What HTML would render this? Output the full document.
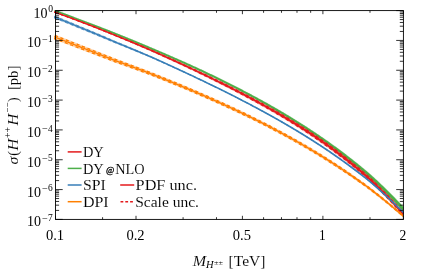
<!DOCTYPE html>
<html><head><meta charset="utf-8"><title>plot</title>
<style>html,body{margin:0;padding:0;background:#fff;}svg{display:block;will-change:transform;}text{font-family:"Liberation Serif",serif;fill:#000;stroke:#fff;stroke-width:0.08px;}text.b{stroke:#000;stroke-width:0.3px;}text.s{stroke:none;}</style></head><body>
<svg width="432" height="270" viewBox="0 0 432 270">
<rect width="432" height="270" fill="#fff"/>
<defs><clipPath id="c"><rect x="54.0" y="10.6" width="349.4" height="208.8"/></clipPath></defs>
<g clip-path="url(#c)" stroke="none">
<path d="M53.20,11.10 L54.20,11.44 L55.18,11.78 L56.18,12.14 L57.18,12.50 L58.17,12.87 L59.17,13.23 L60.17,13.60 L61.17,13.97 L62.17,14.33 L63.17,14.70 L64.17,15.07 L65.16,15.45 L66.16,15.82 L67.16,16.20 L68.16,16.57 L69.16,16.95 L70.16,17.33 L71.16,17.71 L72.16,18.09 L73.15,18.47 L74.15,18.85 L75.15,19.24 L76.15,19.62 L77.15,20.01 L78.15,20.39 L79.15,20.78 L80.16,21.17 L81.16,21.54 L82.16,21.91 L83.16,22.28 L84.16,22.66 L85.15,23.03 L86.15,23.41 L87.15,23.78 L88.15,24.16 L89.15,24.54 L90.15,24.92 L91.15,25.30 L92.15,25.68 L93.15,26.06 L94.14,26.45 L95.14,26.83 L96.14,27.22 L97.14,27.60 L98.14,27.99 L99.14,28.38 L100.14,28.77 L101.14,29.16 L102.13,29.55 L103.13,29.95 L104.13,30.34 L105.13,30.74 L106.13,31.13 L107.12,31.53 L108.12,31.93 L109.12,32.33 L110.12,32.73 L111.12,33.13 L112.12,33.53 L113.11,33.93 L114.11,34.33 L115.11,34.74 L116.11,35.14 L117.11,35.54 L118.11,35.95 L119.10,36.35 L120.10,36.76 L121.10,37.16 L122.10,37.57 L123.10,37.98 L124.10,38.39 L125.09,38.79 L126.09,39.20 L127.09,39.62 L128.09,40.03 L129.09,40.44 L130.08,40.85 L131.08,41.27 L132.08,41.68 L133.08,42.10 L134.08,42.51 L135.08,42.93 L136.07,43.35 L137.07,43.77 L138.07,44.19 L139.07,44.61 L140.07,45.03 L141.06,45.45 L142.06,45.87 L143.06,46.30 L144.06,46.72 L145.06,47.14 L146.06,47.57 L147.05,48.00 L148.05,48.42 L149.05,48.85 L150.05,49.28 L151.05,49.71 L152.05,50.13 L153.04,50.56 L154.05,50.99 L155.05,51.42 L156.05,51.84 L157.05,52.27 L158.04,52.70 L159.04,53.13 L160.04,53.55 L161.04,53.98 L162.04,54.41 L163.04,54.85 L164.04,55.28 L165.03,55.71 L166.03,56.14 L167.03,56.58 L168.03,57.01 L169.03,57.45 L170.03,57.89 L171.03,58.32 L172.03,58.76 L173.02,59.20 L174.02,59.64 L175.02,60.08 L176.02,60.52 L177.02,60.96 L178.02,61.41 L179.02,61.85 L180.01,62.30 L181.01,62.74 L182.01,63.19 L183.01,63.64 L184.01,64.09 L185.01,64.53 L186.01,64.98 L187.00,65.44 L188.00,65.89 L189.00,66.34 L190.00,66.79 L191.00,67.25 L192.00,67.70 L193.00,68.16 L193.99,68.62 L194.99,69.08 L195.99,69.54 L196.99,70.00 L197.99,70.46 L198.99,70.92 L199.98,71.38 L200.98,71.86 L201.97,72.33 L202.97,72.80 L203.97,73.28 L204.97,73.76 L205.97,74.23 L206.97,74.71 L207.96,75.19 L208.96,75.67 L209.96,76.16 L210.96,76.64 L211.96,77.12 L212.96,77.61 L213.95,78.10 L214.95,78.58 L215.95,79.07 L216.95,79.56 L217.95,80.05 L218.95,80.54 L219.94,81.04 L220.94,81.53 L221.94,82.03 L222.94,82.52 L223.94,83.02 L224.94,83.52 L225.93,84.02 L226.93,84.52 L227.93,85.03 L228.93,85.53 L229.93,86.03 L230.93,86.54 L231.92,87.05 L232.92,87.56 L233.92,88.07 L234.92,88.58 L235.92,89.09 L236.91,89.61 L237.91,90.13 L238.91,90.64 L239.91,91.16 L240.91,91.68 L241.90,92.20 L242.90,92.73 L243.90,93.25 L244.90,93.78 L245.90,94.31 L246.89,94.83 L247.89,95.36 L248.89,95.90 L249.89,96.43 L250.89,96.96 L251.88,97.50 L252.88,98.04 L253.88,98.58 L254.88,99.12 L255.88,99.66 L256.87,100.21 L257.87,100.75 L258.87,101.30 L259.87,101.85 L260.87,102.40 L261.86,102.96 L262.86,103.51 L263.86,104.07 L264.86,104.62 L265.86,105.19 L266.85,105.75 L267.85,106.31 L268.85,106.88 L269.85,107.44 L270.85,108.01 L271.84,108.58 L272.84,109.16 L273.84,109.73 L274.84,110.31 L275.83,110.89 L276.83,111.47 L277.83,112.05 L278.83,112.64 L279.83,113.23 L280.82,113.82 L281.82,114.41 L282.82,115.00 L283.82,115.60 L284.81,116.20 L285.81,116.80 L286.81,117.40 L287.81,118.00 L288.80,118.61 L289.80,119.22 L290.80,119.83 L291.80,120.44 L292.79,121.06 L293.79,121.68 L294.79,122.30 L295.79,122.92 L296.78,123.55 L297.78,124.17 L298.78,124.81 L299.78,125.44 L300.77,126.08 L301.77,126.72 L302.76,127.36 L303.76,128.01 L304.76,128.65 L305.75,129.30 L306.75,129.96 L307.74,130.61 L308.74,131.27 L309.73,131.93 L310.73,132.60 L311.73,133.26 L312.72,133.93 L313.72,134.60 L314.71,135.28 L315.71,135.96 L316.70,136.64 L317.70,137.32 L318.69,138.01 L319.69,138.70 L320.69,139.39 L321.68,140.09 L322.68,140.79 L323.67,141.49 L324.67,142.19 L325.66,142.90 L326.66,143.61 L327.65,144.32 L328.65,145.04 L329.64,145.76 L330.64,146.49 L331.63,147.21 L332.63,147.94 L333.62,148.68 L334.62,149.41 L335.61,150.15 L336.61,150.90 L337.61,151.65 L338.60,152.40 L339.59,153.15 L340.59,153.91 L341.58,154.68 L342.57,155.44 L343.56,156.22 L344.56,156.99 L345.55,157.77 L346.54,158.55 L347.54,159.34 L348.53,160.13 L349.52,160.92 L350.51,161.72 L351.50,162.52 L352.50,163.32 L353.49,164.13 L354.48,164.94 L355.47,165.76 L356.47,166.58 L357.46,167.40 L358.45,168.23 L359.44,169.07 L360.43,169.90 L361.43,170.74 L362.42,171.59 L363.41,172.44 L364.40,173.29 L365.39,174.15 L366.39,175.01 L367.38,175.88 L368.37,176.75 L369.33,177.61 L370.32,178.54 L371.31,179.47 L372.31,180.40 L373.30,181.34 L374.29,182.28 L375.28,183.22 L376.27,184.17 L377.26,185.13 L378.26,186.09 L379.25,187.05 L380.24,188.02 L381.24,188.99 L382.23,189.97 L383.22,190.95 L384.22,191.94 L385.21,192.93 L386.21,193.92 L387.20,194.93 L388.19,195.93 L389.19,196.94 L390.18,197.96 L391.17,198.98 L392.17,200.01 L393.16,201.04 L394.16,202.07 L395.15,203.11 L396.14,204.16 L397.14,205.21 L398.13,206.27 L399.12,207.34 L400.12,208.40 L401.11,209.48 L402.11,210.56 L405.30,208.42 L404.29,207.33 L403.28,206.26 L402.28,205.18 L401.27,204.12 L400.27,203.06 L399.26,202.00 L398.25,200.95 L397.25,199.90 L396.24,198.86 L395.23,197.83 L394.23,196.80 L393.22,195.78 L392.22,194.76 L391.21,193.75 L390.20,192.74 L389.20,191.73 L388.19,190.73 L387.18,189.74 L386.18,188.75 L385.17,187.77 L384.17,186.79 L383.16,185.81 L382.15,184.85 L381.15,183.88 L380.14,182.92 L379.13,181.97 L378.12,181.02 L377.11,180.08 L376.11,179.14 L375.10,178.21 L374.09,177.28 L373.08,176.36 L372.07,175.44 L371.03,174.50 L370.02,173.63 L369.02,172.77 L368.01,171.91 L367.00,171.06 L365.99,170.21 L364.98,169.36 L363.98,168.52 L362.97,167.69 L361.96,166.85 L360.95,166.03 L359.94,165.20 L358.94,164.38 L357.93,163.57 L356.92,162.76 L355.91,161.95 L354.91,161.15 L353.90,160.35 L352.89,159.55 L351.88,158.76 L350.88,157.97 L349.87,157.19 L348.86,156.41 L347.85,155.63 L346.85,154.86 L345.84,154.09 L344.83,153.33 L343.82,152.56 L342.82,151.81 L341.81,151.05 L340.80,150.30 L339.80,149.55 L338.79,148.80 L337.79,148.06 L336.78,147.32 L335.78,146.59 L334.77,145.85 L333.77,145.12 L332.76,144.40 L331.76,143.68 L330.75,142.96 L329.75,142.24 L328.74,141.53 L327.74,140.82 L326.73,140.11 L325.73,139.41 L324.73,138.71 L323.72,138.01 L322.72,137.32 L321.71,136.63 L320.71,135.94 L319.70,135.25 L318.70,134.57 L317.69,133.89 L316.69,133.22 L315.69,132.54 L314.68,131.87 L313.68,131.20 L312.67,130.54 L311.67,129.88 L310.66,129.22 L309.66,128.56 L308.66,127.91 L307.65,127.26 L306.65,126.61 L305.64,125.97 L304.64,125.32 L303.63,124.68 L302.63,124.04 L301.63,123.41 L300.62,122.78 L299.62,122.14 L298.62,121.51 L297.61,120.89 L296.61,120.26 L295.61,119.64 L294.61,119.02 L293.60,118.40 L292.60,117.79 L291.60,117.17 L290.60,116.56 L289.59,115.96 L288.59,115.35 L287.59,114.75 L286.59,114.14 L285.59,113.54 L284.58,112.95 L283.58,112.35 L282.58,111.76 L281.58,111.17 L280.57,110.58 L279.57,109.99 L278.57,109.41 L277.57,108.83 L276.56,108.25 L275.56,107.67 L274.56,107.09 L273.56,106.52 L272.56,105.95 L271.55,105.38 L270.55,104.81 L269.55,104.24 L268.55,103.68 L267.55,103.11 L266.54,102.55 L265.54,101.99 L264.54,101.44 L263.54,100.88 L262.53,100.33 L261.53,99.78 L260.53,99.22 L259.53,98.68 L258.53,98.13 L257.52,97.58 L256.52,97.04 L255.52,96.50 L254.52,95.96 L253.52,95.42 L252.52,94.88 L251.51,94.35 L250.51,93.82 L249.51,93.28 L248.51,92.75 L247.51,92.23 L246.50,91.70 L245.50,91.17 L244.50,90.65 L243.50,90.13 L242.49,89.61 L241.49,89.09 L240.49,88.57 L239.49,88.05 L238.49,87.54 L237.49,87.02 L236.48,86.51 L235.48,86.00 L234.48,85.49 L233.48,84.98 L232.48,84.47 L231.47,83.97 L230.47,83.46 L229.47,82.96 L228.47,82.46 L227.47,81.96 L226.46,81.46 L225.46,80.96 L224.46,80.46 L223.46,79.97 L222.46,79.47 L221.46,78.98 L220.45,78.49 L219.45,78.00 L218.45,77.51 L217.45,77.02 L216.45,76.53 L215.45,76.05 L214.44,75.56 L213.44,75.08 L212.44,74.59 L211.44,74.11 L210.44,73.63 L209.44,73.15 L208.43,72.67 L207.43,72.20 L206.43,71.72 L205.43,71.24 L204.43,70.77 L203.43,70.30 L202.42,69.82 L201.42,69.35 L200.41,68.88 L199.41,68.42 L198.41,67.96 L197.41,67.50 L196.41,67.04 L195.41,66.59 L194.40,66.13 L193.40,65.68 L192.40,65.22 L191.40,64.77 L190.40,64.32 L189.40,63.87 L188.40,63.42 L187.39,62.97 L186.39,62.52 L185.39,62.07 L184.39,61.62 L183.39,61.18 L182.39,60.73 L181.39,60.29 L180.38,59.85 L179.38,59.40 L178.38,58.96 L177.38,58.52 L176.38,58.08 L175.38,57.64 L174.38,57.20 L173.38,56.77 L172.37,56.33 L171.37,55.89 L170.37,55.46 L169.37,55.03 L168.37,54.59 L167.37,54.16 L166.37,53.73 L165.36,53.30 L164.36,52.87 L163.36,52.44 L162.36,52.01 L161.36,51.58 L160.36,51.16 L159.36,50.73 L158.36,50.30 L157.35,49.88 L156.35,49.46 L155.35,49.03 L154.36,48.61 L153.35,48.18 L152.35,47.76 L151.35,47.33 L150.35,46.91 L149.35,46.48 L148.35,46.06 L147.35,45.64 L146.34,45.22 L145.34,44.80 L144.34,44.38 L143.34,43.96 L142.34,43.54 L141.33,43.13 L140.33,42.71 L139.33,42.29 L138.33,41.88 L137.33,41.46 L136.32,41.05 L135.32,40.64 L134.32,40.23 L133.32,39.82 L132.32,39.41 L131.32,39.00 L130.31,38.59 L129.31,38.18 L128.31,37.77 L127.31,37.37 L126.31,36.96 L125.30,36.56 L124.30,36.15 L123.30,35.75 L122.30,35.35 L121.30,34.95 L120.30,34.55 L119.29,34.15 L118.29,33.75 L117.29,33.35 L116.29,32.95 L115.29,32.56 L114.29,32.16 L113.29,31.76 L112.28,31.36 L111.28,30.97 L110.28,30.57 L109.28,30.18 L108.28,29.79 L107.27,29.39 L106.27,29.00 L105.27,28.61 L104.27,28.22 L103.27,27.83 L102.27,27.44 L101.26,27.06 L100.26,26.67 L99.26,26.28 L98.26,25.90 L97.26,25.51 L96.26,25.13 L95.26,24.74 L94.25,24.36 L93.25,23.98 L92.25,23.60 L91.25,23.22 L90.25,22.84 L89.25,22.46 L88.25,22.09 L87.25,21.71 L86.25,21.34 L85.24,20.96 L84.24,20.59 L83.24,20.22 L82.24,19.85 L81.24,19.48 L80.25,19.12 L79.25,18.73 L78.25,18.34 L77.25,17.96 L76.25,17.57 L75.25,17.19 L74.25,16.81 L73.25,16.43 L72.24,16.05 L71.24,15.67 L70.24,15.29 L69.24,14.91 L68.24,14.54 L67.24,14.17 L66.24,13.79 L65.23,13.42 L64.23,13.05 L63.23,12.68 L62.23,12.31 L61.23,11.95 L60.23,11.58 L59.23,11.22 L58.22,10.86 L57.22,10.50 L56.22,10.14 L55.20,9.77 L54.20,9.43Z" fill="#4daf4a" fill-opacity="0.33"/>
<path d="M53.26,10.91 L54.26,11.25 L55.25,11.59 L56.24,11.95 L57.24,12.32 L58.24,12.68 L59.24,13.04 L60.24,13.41 L61.24,13.78 L62.24,14.15 L63.24,14.52 L64.24,14.89 L65.23,15.26 L66.23,15.63 L67.23,16.01 L68.23,16.38 L69.23,16.76 L70.23,17.14 L71.23,17.52 L72.23,17.90 L73.23,18.28 L74.22,18.66 L75.22,19.05 L76.22,19.43 L77.22,19.82 L78.22,20.21 L79.22,20.60 L80.23,20.98 L81.23,21.35 L82.23,21.72 L83.23,22.10 L84.23,22.47 L85.23,22.84 L86.22,23.22 L87.22,23.60 L88.22,23.97 L89.22,24.35 L90.22,24.73 L91.22,25.11 L92.22,25.49 L93.22,25.88 L94.22,26.26 L95.21,26.65 L96.21,27.03 L97.21,27.42 L98.21,27.80 L99.21,28.19 L100.21,28.58 L101.21,28.97 L102.21,29.37 L103.21,29.76 L104.20,30.15 L105.20,30.55 L106.20,30.94 L107.20,31.34 L108.20,31.73 L109.20,32.13 L110.20,32.53 L111.20,32.93 L112.19,33.33 L113.19,33.73 L114.19,34.13 L115.19,34.54 L116.19,34.94 L117.19,35.34 L118.19,35.74 L119.19,36.15 L120.19,36.55 L121.18,36.96 L122.18,37.36 L123.18,37.77 L124.18,38.18 L125.18,38.59 L126.18,38.99 L127.18,39.40 L128.18,39.82 L129.17,40.23 L130.17,40.64 L131.17,41.05 L132.17,41.47 L133.17,41.88 L134.17,42.30 L135.17,42.71 L136.16,43.13 L137.16,43.55 L138.16,43.97 L139.16,44.39 L140.16,44.81 L141.16,45.23 L142.16,45.65 L143.16,46.07 L144.15,46.49 L145.15,46.92 L146.15,47.34 L147.15,47.77 L148.15,48.19 L149.15,48.62 L150.15,49.05 L151.15,49.48 L152.14,49.90 L153.14,50.33 L154.15,50.76 L155.15,51.19 L156.15,51.61 L157.14,52.04 L158.14,52.46 L159.14,52.89 L160.14,53.32 L161.14,53.75 L162.14,54.18 L163.14,54.61 L164.14,55.04 L165.14,55.47 L166.14,55.91 L167.14,56.34 L168.13,56.77 L169.13,57.21 L170.13,57.65 L171.13,58.08 L172.13,58.52 L173.13,58.96 L174.13,59.40 L175.13,59.84 L176.13,60.28 L177.13,60.72 L178.12,61.17 L179.12,61.61 L180.12,62.05 L181.12,62.50 L182.12,62.95 L183.12,63.39 L184.12,63.84 L185.12,64.29 L186.12,64.74 L187.11,65.19 L188.11,65.64 L189.11,66.09 L190.11,66.55 L191.11,67.00 L192.11,67.46 L193.11,67.91 L194.11,68.37 L195.11,68.83 L196.11,69.29 L197.10,69.75 L198.10,70.21 L199.10,70.67 L200.09,71.13 L201.09,71.61 L202.09,72.08 L203.09,72.55 L204.09,73.03 L205.09,73.51 L206.09,73.98 L207.09,74.46 L208.09,74.94 L209.08,75.42 L210.08,75.90 L211.08,76.39 L212.08,76.87 L213.08,77.36 L214.08,77.84 L215.08,78.33 L216.08,78.82 L217.07,79.31 L218.07,79.80 L219.07,80.29 L220.07,80.78 L221.07,81.28 L222.07,81.77 L223.07,82.27 L224.07,82.76 L225.06,83.26 L226.06,83.76 L227.06,84.26 L228.06,84.77 L229.06,85.27 L230.06,85.78 L231.06,86.28 L232.06,86.79 L233.05,87.30 L234.05,87.81 L235.05,88.32 L236.05,88.83 L237.05,89.35 L238.05,89.86 L239.05,90.38 L240.04,90.90 L241.04,91.42 L242.04,91.94 L243.04,92.46 L244.04,92.99 L245.04,93.51 L246.03,94.04 L247.03,94.57 L248.03,95.10 L249.03,95.63 L250.03,96.17 L251.03,96.70 L252.03,97.24 L253.02,97.78 L254.02,98.31 L255.02,98.86 L256.02,99.40 L257.02,99.94 L258.02,100.49 L259.01,101.04 L260.01,101.59 L261.01,102.14 L262.01,102.69 L263.01,103.25 L264.01,103.80 L265.00,104.36 L266.00,104.92 L267.00,105.49 L268.00,106.05 L269.00,106.62 L270.00,107.18 L270.99,107.75 L271.99,108.32 L272.99,108.90 L273.99,109.47 L274.99,110.05 L275.98,110.63 L276.98,111.21 L277.98,111.80 L278.98,112.38 L279.98,112.97 L280.98,113.56 L281.97,114.15 L282.97,114.74 L283.97,115.34 L284.97,115.94 L285.97,116.54 L286.96,117.14 L287.96,117.75 L288.96,118.35 L289.96,118.96 L290.96,119.57 L291.95,120.19 L292.95,120.80 L293.95,121.42 L294.95,122.04 L295.95,122.67 L296.94,123.29 L297.94,123.92 L298.94,124.55 L299.94,125.19 L300.93,125.82 L301.93,126.46 L302.93,127.10 L303.92,127.75 L304.92,128.40 L305.92,129.05 L306.92,129.70 L307.91,130.35 L308.91,131.01 L309.91,131.67 L310.90,132.33 L311.90,133.00 L312.90,133.67 L313.89,134.34 L314.89,135.02 L315.89,135.69 L316.88,136.37 L317.88,137.06 L318.88,137.74 L319.87,138.43 L320.87,139.12 L321.87,139.82 L322.86,140.52 L323.86,141.22 L324.86,141.92 L325.85,142.63 L326.85,143.34 L327.85,144.05 L328.84,144.77 L329.84,145.49 L330.84,146.21 L331.83,146.94 L332.83,147.67 L333.83,148.40 L334.82,149.14 L335.82,149.88 L336.82,150.62 L337.81,151.37 L338.81,152.12 L339.81,152.87 L340.80,153.63 L341.79,154.40 L342.79,155.16 L343.78,155.93 L344.78,156.71 L345.77,157.49 L346.76,158.27 L347.76,159.05 L348.75,159.84 L349.75,160.63 L350.74,161.43 L351.73,162.23 L352.73,163.04 L353.72,163.84 L354.71,164.66 L355.71,165.47 L356.70,166.29 L357.70,167.12 L358.69,167.94 L359.68,168.78 L360.68,169.61 L361.67,170.45 L362.66,171.30 L363.66,172.15 L364.65,173.00 L365.64,173.86 L366.64,174.72 L367.63,175.58 L368.62,176.45 L369.59,177.33 L370.59,178.25 L371.58,179.18 L372.57,180.11 L373.57,181.05 L374.56,181.99 L375.55,182.94 L376.55,183.89 L377.54,184.84 L378.53,185.80 L379.53,186.77 L380.52,187.73 L381.52,188.71 L382.51,189.68 L383.50,190.67 L384.50,191.65 L385.49,192.64 L386.49,193.64 L387.48,194.64 L388.48,195.65 L389.47,196.66 L390.47,197.68 L391.46,198.70 L392.46,199.73 L393.45,200.76 L394.44,201.80 L395.44,202.84 L396.43,203.89 L397.43,204.94 L398.42,206.00 L399.42,207.06 L400.41,208.13 L401.40,209.21 L402.40,210.29 L405.00,208.69 L404.00,207.61 L402.99,206.53 L401.99,205.46 L400.98,204.39 L399.97,203.33 L398.97,202.28 L397.96,201.23 L396.96,200.18 L395.95,199.14 L394.95,198.11 L393.94,197.08 L392.94,196.06 L391.93,195.04 L390.92,194.03 L389.92,193.02 L388.91,192.02 L387.91,191.02 L386.90,190.03 L385.90,189.04 L384.89,188.05 L383.89,187.08 L382.88,186.10 L381.88,185.13 L380.87,184.17 L379.86,183.21 L378.86,182.26 L377.85,181.31 L376.84,180.37 L375.84,179.43 L374.83,178.50 L373.82,177.57 L372.82,176.64 L371.81,175.72 L370.78,174.79 L369.77,173.92 L368.77,173.06 L367.76,172.20 L366.75,171.35 L365.75,170.50 L364.74,169.65 L363.73,168.81 L362.73,167.98 L361.72,167.14 L360.71,166.31 L359.71,165.49 L358.70,164.67 L357.69,163.85 L356.69,163.04 L355.68,162.24 L354.68,161.43 L353.67,160.63 L352.66,159.84 L351.66,159.04 L350.65,158.26 L349.64,157.47 L348.64,156.69 L347.63,155.91 L346.63,155.14 L345.62,154.37 L344.61,153.61 L343.61,152.84 L342.60,152.09 L341.60,151.33 L340.59,150.58 L339.59,149.83 L338.58,149.08 L337.58,148.34 L336.58,147.60 L335.57,146.86 L334.57,146.13 L333.57,145.40 L332.56,144.67 L331.56,143.95 L330.56,143.23 L329.55,142.51 L328.55,141.80 L327.55,141.09 L326.54,140.38 L325.54,139.68 L324.54,138.98 L323.53,138.28 L322.53,137.59 L321.53,136.89 L320.52,136.20 L319.52,135.52 L318.52,134.84 L317.51,134.16 L316.51,133.48 L315.51,132.81 L314.50,132.14 L313.50,131.47 L312.50,130.80 L311.49,130.14 L310.49,129.48 L309.49,128.82 L308.49,128.17 L307.48,127.52 L306.48,126.87 L305.48,126.22 L304.47,125.58 L303.47,124.94 L302.47,124.30 L301.46,123.66 L300.46,123.03 L299.46,122.40 L298.46,121.77 L297.46,121.14 L296.45,120.52 L295.45,119.90 L294.45,119.28 L293.45,118.66 L292.45,118.04 L291.44,117.43 L290.44,116.82 L289.44,116.21 L288.44,115.61 L287.44,115.00 L286.43,114.40 L285.43,113.80 L284.43,113.21 L283.43,112.61 L282.43,112.02 L281.42,111.43 L280.42,110.84 L279.42,110.25 L278.42,109.67 L277.42,109.09 L276.41,108.51 L275.41,107.93 L274.41,107.35 L273.41,106.78 L272.41,106.21 L271.41,105.64 L270.40,105.07 L269.40,104.50 L268.40,103.94 L267.40,103.37 L266.40,102.81 L265.39,102.26 L264.39,101.70 L263.39,101.14 L262.39,100.59 L261.39,100.04 L260.39,99.49 L259.38,98.94 L258.38,98.39 L257.38,97.85 L256.38,97.31 L255.38,96.76 L254.38,96.22 L253.37,95.69 L252.37,95.15 L251.37,94.61 L250.37,94.08 L249.37,93.55 L248.37,93.02 L247.37,92.49 L246.36,91.96 L245.36,91.44 L244.36,90.91 L243.36,90.39 L242.36,89.87 L241.36,89.35 L240.36,88.83 L239.35,88.31 L238.35,87.80 L237.35,87.28 L236.35,86.77 L235.35,86.26 L234.35,85.75 L233.35,85.24 L232.34,84.73 L231.34,84.23 L230.34,83.72 L229.34,83.22 L228.34,82.72 L227.34,82.22 L226.34,81.72 L225.33,81.22 L224.33,80.72 L223.33,80.23 L222.33,79.73 L221.33,79.24 L220.33,78.74 L219.33,78.25 L218.33,77.76 L217.32,77.27 L216.32,76.79 L215.32,76.30 L214.32,75.82 L213.32,75.33 L212.32,74.85 L211.32,74.37 L210.32,73.88 L209.31,73.40 L208.31,72.93 L207.31,72.45 L206.31,71.97 L205.31,71.50 L204.31,71.02 L203.31,70.55 L202.31,70.07 L201.31,69.60 L200.30,69.13 L199.30,68.67 L198.30,68.21 L197.30,67.75 L196.29,67.29 L195.29,66.83 L194.29,66.38 L193.29,65.92 L192.29,65.47 L191.29,65.02 L190.29,64.56 L189.29,64.11 L188.29,63.66 L187.28,63.21 L186.28,62.76 L185.28,62.31 L184.28,61.87 L183.28,61.42 L182.28,60.98 L181.28,60.53 L180.28,60.09 L179.28,59.65 L178.28,59.20 L177.27,58.76 L176.27,58.32 L175.27,57.88 L174.27,57.44 L173.27,57.01 L172.27,56.57 L171.27,56.13 L170.27,55.70 L169.27,55.26 L168.27,54.83 L167.26,54.40 L166.26,53.97 L165.26,53.53 L164.26,53.10 L163.26,52.67 L162.26,52.24 L161.26,51.82 L160.26,51.39 L159.26,50.96 L158.26,50.54 L157.25,50.11 L156.25,49.69 L155.25,49.26 L154.26,48.84 L153.26,48.42 L152.25,47.99 L151.25,47.56 L150.25,47.14 L149.25,46.71 L148.25,46.29 L147.25,45.87 L146.25,45.44 L145.25,45.02 L144.24,44.60 L143.24,44.18 L142.24,43.77 L141.24,43.35 L140.24,42.93 L139.24,42.51 L138.24,42.10 L137.24,41.68 L136.23,41.27 L135.23,40.86 L134.23,40.44 L133.23,40.03 L132.23,39.62 L131.23,39.21 L130.23,38.80 L129.23,38.39 L128.22,37.98 L127.22,37.58 L126.22,37.17 L125.22,36.77 L124.22,36.36 L123.22,35.96 L122.22,35.55 L121.22,35.15 L120.21,34.75 L119.21,34.35 L118.21,33.95 L117.21,33.55 L116.21,33.15 L115.21,32.76 L114.21,32.36 L113.21,31.96 L112.21,31.56 L111.20,31.16 L110.20,30.77 L109.20,30.37 L108.20,29.98 L107.20,29.59 L106.20,29.19 L105.20,28.80 L104.19,28.41 L103.19,28.02 L102.19,27.63 L101.19,27.24 L100.19,26.86 L99.19,26.47 L98.19,26.08 L97.19,25.70 L96.19,25.31 L95.18,24.93 L94.18,24.55 L93.18,24.17 L92.18,23.79 L91.18,23.41 L90.18,23.03 L89.18,22.65 L88.18,22.27 L87.18,21.90 L86.18,21.52 L85.17,21.15 L84.17,20.78 L83.17,20.41 L82.17,20.04 L81.17,19.67 L80.18,19.30 L79.18,18.91 L78.18,18.53 L77.18,18.14 L76.18,17.76 L75.18,17.38 L74.18,16.99 L73.17,16.61 L72.17,16.23 L71.17,15.86 L70.17,15.48 L69.17,15.10 L68.17,14.73 L67.17,14.35 L66.17,13.98 L65.17,13.61 L64.16,13.24 L63.16,12.87 L62.16,12.50 L61.16,12.14 L60.16,11.77 L59.16,11.41 L58.16,11.04 L57.16,10.68 L56.15,10.32 L55.14,9.96 L54.14,9.62Z" fill="#4daf4a"/>
<path d="M53.26,12.53 L54.26,12.86 L55.25,13.22 L56.24,13.57 L57.24,13.92 L58.24,14.28 L59.24,14.63 L60.24,14.99 L61.23,15.35 L62.23,15.71 L63.23,16.07 L64.23,16.44 L65.22,16.80 L66.22,17.17 L67.22,17.54 L68.22,17.91 L69.22,18.28 L70.21,18.66 L71.21,19.03 L72.21,19.41 L73.21,19.78 L74.21,20.16 L75.20,20.54 L76.20,20.93 L77.20,21.31 L78.20,21.69 L79.20,22.08 L80.20,22.47 L81.20,22.84 L82.20,23.22 L83.20,23.60 L84.19,23.98 L85.19,24.36 L86.19,24.75 L87.19,25.13 L88.19,25.52 L89.18,25.90 L90.18,26.29 L91.18,26.68 L92.18,27.07 L93.18,27.46 L94.18,27.86 L95.17,28.25 L96.17,28.64 L97.17,29.04 L98.17,29.44 L99.17,29.84 L100.16,30.23 L101.16,30.63 L102.16,31.04 L103.16,31.44 L104.16,31.84 L105.15,32.25 L106.15,32.65 L107.15,33.06 L108.15,33.46 L109.15,33.87 L110.15,34.28 L111.14,34.69 L112.14,35.10 L113.14,35.52 L114.14,35.93 L115.14,36.34 L116.14,36.75 L117.14,37.15 L118.14,37.56 L119.14,37.97 L120.13,38.38 L121.13,38.79 L122.13,39.20 L123.13,39.61 L124.13,40.03 L125.12,40.44 L126.12,40.86 L127.12,41.27 L128.12,41.69 L129.12,42.11 L130.12,42.52 L131.11,42.94 L132.11,43.36 L133.11,43.78 L134.11,44.20 L135.11,44.62 L136.10,45.05 L137.10,45.47 L138.10,45.90 L139.10,46.32 L140.10,46.75 L141.10,47.17 L142.09,47.60 L143.09,48.03 L144.09,48.46 L145.09,48.88 L146.09,49.31 L147.09,49.75 L148.08,50.18 L149.08,50.61 L150.07,51.04 L151.07,51.49 L152.07,51.93 L153.06,52.38 L154.06,52.83 L155.06,53.27 L156.06,53.72 L157.05,54.17 L158.05,54.62 L159.05,55.07 L160.04,55.52 L161.04,55.97 L162.04,56.43 L163.03,56.88 L164.03,57.33 L165.03,57.79 L166.03,58.24 L167.02,58.70 L168.02,59.16 L169.02,59.61 L170.01,60.07 L171.01,60.53 L172.01,60.99 L173.01,61.45 L174.00,61.91 L175.00,62.37 L176.00,62.83 L176.99,63.30 L177.99,63.76 L178.99,64.23 L179.98,64.69 L180.98,65.16 L181.98,65.62 L182.97,66.09 L183.97,66.56 L184.97,67.03 L185.97,67.50 L186.96,67.97 L187.96,68.44 L188.96,68.91 L189.95,69.39 L190.95,69.86 L191.95,70.33 L192.94,70.81 L193.94,71.29 L194.94,71.76 L195.93,72.24 L196.93,72.72 L197.93,73.20 L198.92,73.68 L199.92,74.16 L200.92,74.64 L201.92,75.12 L202.91,75.61 L203.91,76.09 L204.91,76.57 L205.90,77.06 L206.90,77.55 L207.90,78.03 L208.89,78.52 L209.89,79.01 L210.89,79.50 L211.89,79.99 L212.88,80.49 L213.88,80.98 L214.88,81.47 L215.87,81.97 L216.87,82.46 L217.87,82.96 L218.86,83.46 L219.86,83.96 L220.86,84.46 L221.85,84.96 L222.85,85.46 L223.85,85.97 L224.84,86.47 L225.84,86.98 L226.84,87.48 L227.83,87.99 L228.83,88.50 L229.83,89.01 L230.82,89.52 L231.82,90.04 L232.82,90.55 L233.81,91.06 L234.81,91.58 L235.81,92.10 L236.80,92.62 L237.80,93.14 L238.80,93.66 L239.79,94.18 L240.79,94.71 L241.79,95.23 L242.78,95.76 L243.78,96.29 L244.77,96.82 L245.77,97.35 L246.77,97.88 L247.76,98.41 L248.76,98.95 L249.76,99.48 L250.75,100.02 L251.75,100.56 L252.75,101.10 L253.74,101.64 L254.74,102.19 L255.73,102.73 L256.73,103.28 L257.73,103.83 L258.72,104.38 L259.72,104.93 L260.72,105.48 L261.71,106.04 L262.71,106.59 L263.71,107.15 L264.70,107.71 L265.70,108.28 L266.69,108.84 L267.69,109.41 L268.69,109.97 L269.68,110.54 L270.68,111.11 L271.67,111.69 L272.67,112.26 L273.67,112.84 L274.66,113.42 L275.66,114.00 L276.65,114.58 L277.65,115.17 L278.65,115.75 L279.64,116.34 L280.64,116.93 L281.63,117.53 L282.63,118.12 L283.62,118.72 L284.62,119.32 L285.62,119.92 L286.61,120.53 L287.61,121.13 L288.60,121.74 L289.60,122.35 L290.59,122.97 L291.59,123.58 L292.58,124.20 L293.58,124.82 L294.57,125.44 L295.57,126.07 L296.57,126.70 L297.56,127.33 L298.56,127.96 L299.55,128.60 L300.55,129.23 L301.54,129.87 L302.54,130.51 L303.53,131.16 L304.53,131.81 L305.53,132.46 L306.52,133.11 L307.52,133.77 L308.51,134.43 L309.51,135.09 L310.50,135.75 L311.50,136.42 L312.50,137.09 L313.49,137.76 L314.49,138.44 L315.48,139.12 L316.48,139.80 L317.47,140.49 L318.47,141.18 L319.46,141.87 L320.46,142.56 L321.46,143.26 L322.45,143.96 L323.45,144.67 L324.44,145.38 L325.44,146.09 L326.43,146.80 L327.43,147.52 L328.42,148.24 L329.42,148.97 L330.41,149.70 L331.41,150.43 L332.40,151.16 L333.40,151.90 L334.39,152.65 L335.39,153.39 L336.38,154.14 L337.38,154.90 L338.37,155.66 L339.37,156.42 L340.37,157.18 L341.36,157.95 L342.36,158.72 L343.36,159.49 L344.35,160.27 L345.35,161.05 L346.35,161.84 L347.35,162.63 L348.34,163.42 L349.34,164.22 L350.34,165.03 L351.33,165.83 L352.33,166.65 L353.33,167.46 L354.32,168.28 L355.32,169.11 L356.32,169.94 L357.32,170.77 L358.31,171.61 L359.31,172.45 L360.31,173.30 L361.30,174.15 L362.30,175.01 L363.30,175.87 L364.29,176.74 L365.29,177.61 L366.29,178.48 L367.29,179.36 L368.28,180.25 L369.24,181.13 L370.24,182.08 L371.24,183.03 L372.23,183.98 L373.23,184.94 L374.23,185.91 L375.23,186.88 L376.22,187.86 L377.22,188.84 L378.22,189.83 L379.22,190.82 L380.22,191.81 L381.22,192.81 L382.22,193.82 L383.22,194.83 L384.22,195.85 L385.22,196.87 L386.22,197.90 L387.21,198.93 L388.21,199.99 L389.21,201.05 L390.22,202.12 L391.22,203.20 L392.22,204.28 L393.22,205.37 L394.22,206.46 L395.22,207.56 L396.22,208.67 L397.22,209.78 L398.22,210.90 L399.23,212.03 L400.23,213.16 L401.23,214.29 L402.23,215.44 L405.17,213.70 L404.17,212.54 L403.17,211.39 L402.17,210.24 L401.18,209.10 L400.18,207.96 L399.18,206.83 L398.18,205.71 L397.18,204.59 L396.18,203.48 L395.18,202.37 L394.18,201.27 L393.18,200.18 L392.19,199.09 L391.19,198.01 L390.19,196.93 L389.18,195.86 L388.18,194.81 L387.18,193.77 L386.18,192.74 L385.18,191.71 L384.18,190.68 L383.18,189.67 L382.18,188.65 L381.18,187.65 L380.18,186.65 L379.18,185.66 L378.17,184.67 L377.17,183.69 L376.17,182.71 L375.17,181.74 L374.16,180.77 L373.16,179.81 L372.16,178.86 L371.12,177.88 L370.12,176.98 L369.11,176.09 L368.11,175.20 L367.11,174.32 L366.10,173.45 L365.10,172.58 L364.10,171.71 L363.09,170.85 L362.09,169.99 L361.09,169.14 L360.09,168.29 L359.08,167.44 L358.08,166.61 L357.08,165.77 L356.07,164.94 L355.07,164.11 L354.07,163.29 L353.06,162.48 L352.06,161.66 L351.06,160.86 L350.06,160.05 L349.05,159.25 L348.05,158.46 L347.05,157.66 L346.04,156.88 L345.04,156.09 L344.04,155.31 L343.03,154.54 L342.03,153.77 L341.03,153.00 L340.02,152.24 L339.02,151.48 L338.01,150.73 L337.01,149.98 L336.00,149.23 L335.00,148.49 L333.99,147.75 L332.99,147.01 L331.98,146.28 L330.98,145.56 L329.97,144.83 L328.97,144.11 L327.97,143.39 L326.96,142.68 L325.96,141.97 L324.95,141.26 L323.95,140.56 L322.94,139.86 L321.94,139.16 L320.93,138.47 L319.93,137.78 L318.92,137.09 L317.92,136.41 L316.91,135.72 L315.91,135.05 L314.91,134.37 L313.90,133.70 L312.90,133.03 L311.89,132.37 L310.89,131.70 L309.88,131.04 L308.88,130.39 L307.88,129.73 L306.87,129.08 L305.87,128.43 L304.86,127.79 L303.86,127.14 L302.85,126.50 L301.85,125.86 L300.85,125.23 L299.84,124.60 L298.84,123.97 L297.83,123.34 L296.83,122.72 L295.82,122.10 L294.82,121.48 L293.81,120.86 L292.81,120.25 L291.80,119.64 L290.80,119.03 L289.80,118.43 L288.79,117.82 L287.79,117.22 L286.78,116.62 L285.78,116.02 L284.77,115.43 L283.77,114.84 L282.76,114.25 L281.76,113.66 L280.76,113.07 L279.75,112.49 L278.75,111.91 L277.74,111.33 L276.74,110.75 L275.74,110.17 L274.73,109.60 L273.73,109.03 L272.72,108.46 L271.72,107.89 L270.72,107.32 L269.71,106.76 L268.71,106.20 L267.70,105.64 L266.70,105.08 L265.70,104.52 L264.69,103.97 L263.69,103.42 L262.68,102.86 L261.68,102.31 L260.68,101.77 L259.67,101.22 L258.67,100.68 L257.67,100.13 L256.66,99.59 L255.66,99.05 L254.66,98.52 L253.65,97.98 L252.65,97.44 L251.65,96.91 L250.64,96.38 L249.64,95.85 L248.63,95.32 L247.63,94.80 L246.63,94.27 L245.62,93.75 L244.62,93.23 L243.62,92.71 L242.61,92.19 L241.61,91.67 L240.61,91.15 L239.60,90.64 L238.60,90.12 L237.59,89.61 L236.59,89.10 L235.59,88.59 L234.58,88.08 L233.58,87.57 L232.58,87.07 L231.57,86.56 L230.57,86.06 L229.57,85.56 L228.56,85.06 L227.56,84.55 L226.56,84.06 L225.55,83.56 L224.55,83.06 L223.55,82.57 L222.54,82.07 L221.54,81.58 L220.54,81.09 L219.53,80.59 L218.53,80.10 L217.53,79.61 L216.52,79.13 L215.52,78.64 L214.52,78.15 L213.52,77.67 L212.51,77.18 L211.51,76.70 L210.51,76.22 L209.50,75.74 L208.50,75.26 L207.50,74.78 L206.49,74.30 L205.49,73.82 L204.49,73.35 L203.49,72.87 L202.48,72.40 L201.48,71.92 L200.48,71.45 L199.47,70.98 L198.47,70.51 L197.47,70.04 L196.46,69.57 L195.46,69.10 L194.46,68.63 L193.45,68.17 L192.45,67.70 L191.45,67.24 L190.44,66.77 L189.44,66.31 L188.44,65.85 L187.44,65.39 L186.43,64.93 L185.43,64.47 L184.43,64.01 L183.42,63.55 L182.42,63.09 L181.42,62.64 L180.41,62.18 L179.41,61.72 L178.41,61.27 L177.40,60.82 L176.40,60.36 L175.40,59.91 L174.40,59.46 L173.39,59.01 L172.39,58.56 L171.39,58.11 L170.38,57.66 L169.38,57.21 L168.38,56.77 L167.38,56.32 L166.37,55.87 L165.37,55.43 L164.37,54.98 L163.36,54.54 L162.36,54.10 L161.36,53.65 L160.35,53.21 L159.35,52.77 L158.35,52.33 L157.35,51.89 L156.34,51.45 L155.34,51.02 L154.34,50.58 L153.33,50.14 L152.33,49.71 L151.33,49.27 L150.32,48.84 L149.32,48.41 L148.32,47.98 L147.31,47.56 L146.31,47.13 L145.31,46.71 L144.31,46.28 L143.31,45.86 L142.30,45.44 L141.30,45.01 L140.30,44.59 L139.30,44.17 L138.30,43.75 L137.30,43.34 L136.29,42.92 L135.29,42.50 L134.29,42.08 L133.29,41.67 L132.29,41.25 L131.29,40.84 L130.28,40.43 L129.28,40.01 L128.28,39.60 L127.28,39.19 L126.28,38.78 L125.27,38.37 L124.27,37.96 L123.27,37.56 L122.27,37.15 L121.27,36.74 L120.27,36.34 L119.26,35.94 L118.26,35.53 L117.26,35.13 L116.26,34.73 L115.26,34.33 L114.26,33.92 L113.26,33.51 L112.26,33.11 L111.26,32.70 L110.25,32.30 L109.25,31.89 L108.25,31.49 L107.25,31.09 L106.25,30.69 L105.24,30.29 L104.24,29.89 L103.24,29.49 L102.24,29.10 L101.24,28.70 L100.23,28.31 L99.23,27.91 L98.23,27.52 L97.23,27.13 L96.23,26.74 L95.23,26.35 L94.22,25.96 L93.22,25.57 L92.22,25.19 L91.22,24.80 L90.22,24.42 L89.21,24.04 L88.21,23.66 L87.21,23.28 L86.21,22.90 L85.21,22.52 L84.20,22.14 L83.20,21.77 L82.20,21.39 L81.20,21.02 L80.20,20.65 L79.20,20.27 L78.20,19.89 L77.20,19.51 L76.20,19.13 L75.19,18.76 L74.19,18.38 L73.19,18.01 L72.19,17.64 L71.19,17.27 L70.18,16.90 L69.18,16.53 L68.18,16.16 L67.18,15.80 L66.18,15.44 L65.17,15.07 L64.17,14.71 L63.17,14.36 L62.17,14.00 L61.17,13.64 L60.16,13.29 L59.16,12.94 L58.16,12.59 L57.16,12.24 L56.15,11.89 L55.14,11.57 L54.14,11.24Z" fill="#e41a1c" fill-opacity="0.33"/>
<path d="M53.31,12.38 L54.31,12.72 L55.30,13.05 L56.30,13.40 L57.30,13.76 L58.30,14.11 L59.30,14.46 L60.30,14.82 L61.30,15.18 L62.29,15.54 L63.29,15.90 L64.29,16.26 L65.29,16.62 L66.29,16.99 L67.29,17.36 L68.29,17.73 L69.29,18.10 L70.28,18.47 L71.28,18.84 L72.28,19.22 L73.28,19.59 L74.28,19.97 L75.28,20.35 L76.28,20.73 L77.28,21.11 L78.27,21.50 L79.27,21.88 L80.28,22.26 L81.28,22.64 L82.28,23.02 L83.27,23.39 L84.27,23.77 L85.27,24.15 L86.27,24.53 L87.27,24.92 L88.27,25.30 L89.27,25.69 L90.27,26.07 L91.27,26.46 L92.26,26.85 L93.26,27.24 L94.26,27.63 L95.26,28.02 L96.26,28.42 L97.26,28.81 L98.26,29.21 L99.26,29.60 L100.26,30.00 L101.26,30.40 L102.25,30.80 L103.25,31.20 L104.25,31.60 L105.25,32.01 L106.25,32.41 L107.25,32.81 L108.25,33.22 L109.25,33.63 L110.25,34.03 L111.25,34.44 L112.24,34.85 L113.24,35.26 L114.24,35.67 L115.25,36.08 L116.24,36.49 L117.24,36.90 L118.24,37.30 L119.24,37.71 L120.24,38.12 L121.24,38.53 L122.24,38.94 L123.24,39.35 L124.24,39.76 L125.24,40.17 L126.24,40.58 L127.23,41.00 L128.23,41.41 L129.23,41.83 L130.23,42.24 L131.23,42.66 L132.23,43.08 L133.23,43.50 L134.23,43.92 L135.23,44.34 L136.23,44.76 L137.22,45.18 L138.22,45.60 L139.22,46.03 L140.22,46.45 L141.22,46.88 L142.22,47.30 L143.22,47.73 L144.22,48.16 L145.22,48.58 L146.22,49.01 L147.22,49.44 L148.21,49.87 L149.21,50.30 L150.21,50.74 L151.21,51.18 L152.21,51.62 L153.21,52.06 L154.20,52.50 L155.20,52.95 L156.20,53.39 L157.20,53.84 L158.20,54.28 L159.20,54.73 L160.20,55.18 L161.20,55.62 L162.20,56.07 L163.19,56.52 L164.19,56.97 L165.19,57.42 L166.19,57.88 L167.19,58.33 L168.19,58.78 L169.19,59.23 L170.19,59.69 L171.19,60.14 L172.19,60.60 L173.18,61.06 L174.18,61.51 L175.18,61.97 L176.18,62.43 L177.18,62.89 L178.18,63.35 L179.18,63.81 L180.18,64.27 L181.18,64.73 L182.18,65.20 L183.17,65.66 L184.17,66.13 L185.17,66.59 L186.17,67.06 L187.17,67.52 L188.17,67.99 L189.17,68.46 L190.17,68.93 L191.17,69.40 L192.16,69.87 L193.16,70.34 L194.16,70.82 L195.16,71.29 L196.16,71.76 L197.16,72.24 L198.16,72.71 L199.16,73.19 L200.16,73.67 L201.15,74.15 L202.15,74.63 L203.15,75.11 L204.15,75.59 L205.15,76.07 L206.15,76.56 L207.15,77.04 L208.14,77.52 L209.14,78.01 L210.14,78.50 L211.14,78.99 L212.14,79.48 L213.14,79.97 L214.14,80.46 L215.13,80.95 L216.13,81.44 L217.13,81.93 L218.13,82.43 L219.13,82.93 L220.13,83.42 L221.12,83.92 L222.12,84.42 L223.12,84.92 L224.12,85.42 L225.12,85.92 L226.12,86.43 L227.12,86.93 L228.11,87.44 L229.11,87.95 L230.11,88.45 L231.11,88.96 L232.11,89.47 L233.11,89.99 L234.10,90.50 L235.10,91.01 L236.10,91.53 L237.10,92.05 L238.10,92.56 L239.10,93.08 L240.09,93.60 L241.09,94.13 L242.09,94.65 L243.09,95.17 L244.09,95.70 L245.08,96.23 L246.08,96.76 L247.08,97.29 L248.08,97.82 L249.08,98.35 L250.08,98.89 L251.07,99.42 L252.07,99.96 L253.07,100.50 L254.07,101.04 L255.07,101.58 L256.06,102.13 L257.06,102.67 L258.06,103.22 L259.06,103.77 L260.06,104.32 L261.05,104.87 L262.05,105.43 L263.05,105.98 L264.05,106.54 L265.05,107.10 L266.04,107.66 L267.04,108.22 L268.04,108.79 L269.04,109.35 L270.04,109.92 L271.03,110.49 L272.03,111.06 L273.03,111.64 L274.03,112.21 L275.02,112.79 L276.02,113.37 L277.02,113.95 L278.02,114.54 L279.02,115.12 L280.01,115.71 L281.01,116.30 L282.01,116.89 L283.01,117.49 L284.00,118.08 L285.00,118.68 L286.00,119.28 L287.00,119.89 L287.99,120.49 L288.99,121.10 L289.99,121.71 L290.99,122.32 L291.98,122.94 L292.98,123.56 L293.98,124.18 L294.98,124.80 L295.97,125.42 L296.97,126.05 L297.97,126.68 L298.97,127.31 L299.96,127.95 L300.96,128.58 L301.96,129.22 L302.96,129.87 L303.95,130.51 L304.95,131.16 L305.95,131.81 L306.95,132.46 L307.94,133.12 L308.94,133.78 L309.94,134.44 L310.94,135.10 L311.94,135.77 L312.93,136.44 L313.93,137.11 L314.93,137.79 L315.93,138.47 L316.92,139.15 L317.92,139.84 L318.92,140.53 L319.92,141.22 L320.91,141.91 L321.91,142.61 L322.91,143.31 L323.91,144.02 L324.90,144.73 L325.90,145.44 L326.90,146.15 L327.89,146.87 L328.89,147.59 L329.89,148.32 L330.89,149.05 L331.88,149.78 L332.88,150.52 L333.88,151.26 L334.88,152.00 L335.87,152.75 L336.87,153.50 L337.87,154.25 L338.86,155.01 L339.86,155.77 L340.86,156.54 L341.86,157.30 L342.86,158.08 L343.85,158.85 L344.85,159.63 L345.85,160.42 L346.85,161.21 L347.85,162.00 L348.84,162.80 L349.84,163.60 L350.84,164.40 L351.84,165.21 L352.84,166.03 L353.83,166.85 L354.83,167.67 L355.83,168.50 L356.83,169.33 L357.82,170.16 L358.82,171.00 L359.82,171.85 L360.82,172.70 L361.82,173.55 L362.81,174.41 L363.81,175.28 L364.81,176.15 L365.81,177.02 L366.81,177.90 L367.80,178.78 L368.80,179.67 L369.78,180.57 L370.78,181.51 L371.77,182.47 L372.77,183.43 L373.77,184.39 L374.77,185.36 L375.77,186.33 L376.76,187.31 L377.76,188.29 L378.76,189.28 L379.76,190.28 L380.76,191.28 L381.76,192.28 L382.76,193.29 L383.76,194.30 L384.76,195.33 L385.76,196.35 L386.75,197.38 L387.75,198.42 L388.75,199.49 L389.75,200.56 L390.75,201.63 L391.75,202.71 L392.75,203.80 L393.75,204.89 L394.75,205.99 L395.75,207.09 L396.74,208.20 L397.74,209.32 L398.74,210.44 L399.74,211.57 L400.74,212.70 L401.74,213.85 L402.74,214.99 L404.66,214.15 L403.66,212.99 L402.66,211.84 L401.66,210.69 L400.66,209.56 L399.66,208.42 L398.66,207.30 L397.65,206.18 L396.65,205.06 L395.65,203.96 L394.65,202.85 L393.65,201.76 L392.65,200.67 L391.65,199.59 L390.65,198.51 L389.65,197.44 L388.65,196.37 L387.64,195.32 L386.64,194.29 L385.64,193.26 L384.64,192.23 L383.64,191.22 L382.64,190.20 L381.64,189.19 L380.64,188.19 L379.64,187.20 L378.64,186.21 L377.64,185.22 L376.63,184.24 L375.63,183.27 L374.63,182.30 L373.63,181.33 L372.62,180.38 L371.62,179.42 L370.60,178.46 L369.60,177.56 L368.60,176.68 L367.59,175.79 L366.59,174.91 L365.59,174.04 L364.59,173.17 L363.58,172.30 L362.58,171.45 L361.58,170.59 L360.58,169.74 L359.58,168.89 L358.57,168.05 L357.57,167.21 L356.57,166.38 L355.57,165.55 L354.57,164.73 L353.56,163.91 L352.56,163.10 L351.56,162.29 L350.56,161.48 L349.56,160.68 L348.55,159.88 L347.55,159.09 L346.55,158.30 L345.55,157.51 L344.54,156.73 L343.54,155.95 L342.54,155.18 L341.54,154.41 L340.54,153.64 L339.53,152.88 L338.53,152.13 L337.53,151.37 L336.53,150.62 L335.52,149.88 L334.52,149.14 L333.52,148.40 L332.51,147.66 L331.51,146.93 L330.51,146.20 L329.51,145.48 L328.50,144.76 L327.50,144.04 L326.50,143.33 L325.50,142.62 L324.49,141.91 L323.49,141.21 L322.49,140.51 L321.49,139.81 L320.48,139.12 L319.48,138.43 L318.48,137.74 L317.48,137.06 L316.47,136.37 L315.47,135.70 L314.47,135.02 L313.47,134.35 L312.46,133.68 L311.46,133.01 L310.46,132.35 L309.46,131.69 L308.45,131.03 L307.45,130.38 L306.45,129.73 L305.45,129.08 L304.44,128.43 L303.44,127.79 L302.44,127.15 L301.44,126.51 L300.44,125.88 L299.43,125.25 L298.43,124.62 L297.43,123.99 L296.42,123.36 L295.42,122.74 L294.42,122.12 L293.42,121.51 L292.41,120.89 L291.41,120.28 L290.41,119.67 L289.41,119.06 L288.40,118.46 L287.40,117.86 L286.40,117.26 L285.40,116.66 L284.40,116.06 L283.39,115.47 L282.39,114.88 L281.39,114.29 L280.39,113.70 L279.38,113.12 L278.38,112.53 L277.38,111.95 L276.38,111.37 L275.37,110.80 L274.37,110.22 L273.37,109.65 L272.37,109.08 L271.37,108.51 L270.36,107.94 L269.36,107.38 L268.36,106.82 L267.36,106.26 L266.36,105.70 L265.35,105.14 L264.35,104.58 L263.35,104.03 L262.35,103.48 L261.34,102.93 L260.34,102.38 L259.34,101.83 L258.34,101.28 L257.34,100.74 L256.33,100.20 L255.33,99.66 L254.33,99.12 L253.33,98.58 L252.33,98.04 L251.33,97.51 L250.32,96.98 L249.32,96.45 L248.32,95.92 L247.32,95.39 L246.32,94.86 L245.31,94.34 L244.31,93.81 L243.31,93.29 L242.31,92.77 L241.31,92.25 L240.31,91.73 L239.30,91.21 L238.30,90.70 L237.30,90.18 L236.30,89.67 L235.30,89.16 L234.30,88.65 L233.29,88.14 L232.29,87.63 L231.29,87.12 L230.29,86.61 L229.29,86.11 L228.29,85.61 L227.28,85.10 L226.28,84.60 L225.28,84.10 L224.28,83.60 L223.28,83.11 L222.28,82.61 L221.27,82.11 L220.27,81.62 L219.27,81.13 L218.27,80.63 L217.27,80.14 L216.27,79.65 L215.27,79.16 L214.26,78.67 L213.26,78.19 L212.26,77.70 L211.26,77.22 L210.26,76.73 L209.26,76.25 L208.26,75.76 L207.25,75.28 L206.25,74.80 L205.25,74.32 L204.25,73.84 L203.25,73.37 L202.25,72.89 L201.25,72.41 L200.24,71.94 L199.24,71.46 L198.24,70.99 L197.24,70.52 L196.24,70.04 L195.24,69.57 L194.24,69.10 L193.24,68.63 L192.23,68.16 L191.23,67.69 L190.23,67.23 L189.23,66.76 L188.23,66.29 L187.23,65.83 L186.23,65.37 L185.23,64.90 L184.23,64.44 L183.23,63.98 L182.22,63.52 L181.22,63.06 L180.22,62.60 L179.22,62.14 L178.22,61.68 L177.22,61.22 L176.22,60.77 L175.22,60.31 L174.22,59.85 L173.21,59.40 L172.21,58.95 L171.21,58.49 L170.21,58.04 L169.21,57.59 L168.21,57.14 L167.21,56.69 L166.21,56.24 L165.21,55.79 L164.21,55.34 L163.20,54.89 L162.20,54.45 L161.20,54.00 L160.20,53.56 L159.20,53.11 L158.20,52.67 L157.20,52.23 L156.20,51.78 L155.20,51.34 L154.20,50.90 L153.19,50.46 L152.19,50.02 L151.19,49.58 L150.19,49.14 L149.19,48.71 L148.18,48.29 L147.18,47.86 L146.18,47.43 L145.18,47.01 L144.18,46.58 L143.18,46.16 L142.18,45.73 L141.18,45.31 L140.18,44.89 L139.18,44.46 L138.18,44.04 L137.17,43.62 L136.17,43.20 L135.17,42.79 L134.17,42.37 L133.17,41.95 L132.17,41.53 L131.17,41.12 L130.17,40.70 L129.17,40.29 L128.17,39.88 L127.17,39.47 L126.16,39.05 L125.16,38.64 L124.16,38.23 L123.16,37.82 L122.16,37.42 L121.16,37.01 L120.16,36.60 L119.16,36.20 L118.16,35.79 L117.16,35.39 L116.15,34.99 L115.16,34.58 L114.16,34.17 L113.16,33.77 L112.16,33.36 L111.15,32.95 L110.15,32.54 L109.15,32.14 L108.15,31.74 L107.15,31.33 L106.15,30.93 L105.15,30.53 L104.15,30.13 L103.15,29.73 L102.15,29.33 L101.14,28.93 L100.14,28.54 L99.14,28.14 L98.14,27.75 L97.14,27.36 L96.14,26.96 L95.14,26.57 L94.14,26.18 L93.14,25.79 L92.13,25.41 L91.13,25.02 L90.13,24.64 L89.13,24.25 L88.13,23.87 L87.13,23.49 L86.13,23.11 L85.13,22.73 L84.13,22.35 L83.12,21.97 L82.12,21.60 L81.12,21.23 L80.13,20.85 L79.13,20.47 L78.12,20.09 L77.12,19.71 L76.12,19.33 L75.12,18.95 L74.12,18.57 L73.12,18.20 L72.12,17.83 L71.12,17.45 L70.12,17.08 L69.11,16.71 L68.11,16.35 L67.11,15.98 L66.11,15.62 L65.11,15.25 L64.11,14.89 L63.11,14.53 L62.11,14.17 L61.10,13.82 L60.10,13.46 L59.10,13.11 L58.10,12.76 L57.10,12.41 L56.10,12.06 L55.09,11.71 L54.09,11.38Z" fill="#e41a1c"/>
<path d="M54.50,12.15 L55.50,12.49 L56.50,12.84 L57.50,13.19 L58.50,13.55 L59.50,13.90 L60.50,14.26 L61.49,14.62 L62.49,14.98 L63.49,15.34 L64.49,15.71 L65.49,16.07 L66.49,16.44 L67.49,16.81 L68.49,17.18 L69.49,17.55 L70.49,17.93 L71.48,18.30 L72.48,18.68 L73.48,19.05 L74.48,19.43 L75.48,19.81 L76.48,20.20 L77.48,20.58 L78.48,20.96 L79.48,21.35 L80.48,21.73 L81.48,22.11 L82.47,22.49 L83.47,22.87 L84.47,23.25 L85.47,23.63 L86.47,24.01 L87.47,24.40 L88.47,24.78 L89.47,25.17 L90.47,25.56 L91.47,25.95 L92.46,26.34 L93.46,26.73 L94.46,27.12 L95.46,27.51 L96.46,27.91 L97.46,28.31 L98.46,28.70 L99.46,29.10 L100.46,29.50 L101.45,29.90 L102.45,30.30 L103.45,30.70 L104.45,31.11 L105.45,31.51 L106.45,31.92 L107.45,32.32 L108.45,32.73 L109.45,33.14 L110.44,33.55 L111.44,33.96 L112.44,34.37 L113.44,34.78 L114.44,35.19 L115.44,35.60 L116.44,36.01 L117.44,36.42 L118.44,36.82 L119.44,37.23 L120.43,37.64 L121.43,38.05 L122.43,38.46 L123.43,38.87 L124.43,39.29 L125.43,39.70 L126.43,40.12 L127.43,40.53 L128.43,40.95 L129.42,41.36 L130.42,41.78 L131.42,42.20 L132.42,42.62 L133.42,43.04 L134.42,43.46 L135.42,43.88 L136.42,44.31 L137.42,44.73 L138.41,45.15 L139.41,45.58 L140.41,46.00 L141.41,46.43 L142.41,46.86 L143.41,47.28 L144.41,47.71 L145.41,48.14 L146.41,48.57 L147.40,49.00 L148.40,49.43 L149.40,49.87 L150.40,50.30 L151.40,50.75 L152.39,51.19 L153.39,51.64 L154.39,52.08 L155.39,52.53 L156.39,52.98 L157.38,53.43 L158.38,53.88 L159.38,54.33 L160.38,54.78 L161.37,55.23 L162.37,55.68 L163.37,56.13 L164.37,56.59 L165.37,57.04 L166.36,57.49 L167.36,57.95 L168.36,58.41 L169.36,58.86 L170.35,59.32 L171.35,59.78 L172.35,60.24 L173.35,60.70 L174.35,61.16 L175.34,61.62 L176.34,62.08 L177.34,62.54 L178.34,63.01 L179.33,63.47 L180.33,63.94 L181.33,64.40 L182.33,64.87 L183.32,65.34 L184.32,65.80 L185.32,66.27 L186.32,66.74 L187.32,67.21 L188.31,67.68 L189.31,68.16 L190.31,68.63 L191.31,69.10 L192.30,69.58 L193.30,70.05 L194.30,70.53 L195.30,71.00 L196.29,71.48 L197.29,71.96 L198.29,72.44 L199.29,72.92 L200.28,73.40 L201.28,73.88 L202.28,74.36 L203.28,74.85 L204.27,75.33 L205.27,75.82 L206.27,76.30 L207.27,76.79 L208.26,77.28 L209.26,77.77 L210.26,78.26 L211.26,78.75 L212.25,79.24 L213.25,79.73 L214.25,80.23 L215.25,80.72 L216.24,81.22 L217.24,81.71 L218.24,82.21 L219.23,82.71 L220.23,83.21 L221.23,83.71 L222.23,84.21 L223.22,84.72 L224.22,85.22 L225.22,85.72 L226.22,86.23 L227.21,86.74 L228.21,87.25 L229.21,87.76 L230.20,88.27 L231.20,88.78 L232.20,89.29 L233.20,89.81 L234.19,90.32 L235.19,90.84 L236.19,91.36 L237.18,91.88 L238.18,92.40 L239.18,92.92 L240.18,93.45 L241.17,93.97 L242.17,94.50 L243.17,95.02 L244.16,95.55 L245.16,96.08 L246.16,96.61 L247.15,97.15 L248.15,97.68 L249.15,98.22 L250.15,98.76 L251.14,99.29 L252.14,99.83 L253.14,100.37 L254.13,100.92 L255.13,101.46 L256.13,102.01 L257.13,102.55 L258.12,103.10 L259.12,103.65 L260.12,104.21 L261.12,104.76 L262.11,105.32 L263.11,105.87 L264.11,106.43 L265.10,106.99 L266.10,107.56 L267.10,108.12 L268.10,108.69 L269.09,109.26 L270.09,109.83 L271.09,110.40 L272.08,110.97 L273.08,111.55 L274.08,112.13 L275.07,112.70 L276.07,113.29 L277.07,113.87 L278.06,114.46 L279.06,115.04 L280.06,115.63 L281.05,116.23 L282.05,116.82 L283.05,117.42 L284.04,118.01 L285.04,118.62 L286.04,119.22 L287.03,119.82 L288.03,120.43 L289.03,121.04 L290.02,121.65 L291.02,122.27 L292.02,122.88 L293.01,123.50 L294.01,124.12 L295.01,124.75 L296.00,125.37 L297.00,126.00 L298.00,126.64 L298.99,127.27 L299.99,127.91 L300.99,128.54 L301.98,129.18 L302.98,129.83 L303.98,130.47 L304.98,131.12 L305.97,131.77 L306.97,132.43 L307.97,133.08 L308.96,133.74 L309.96,134.41 L310.96,135.07 L311.95,135.74 L312.95,136.41 L313.95,137.09 L314.95,137.77 L315.94,138.45 L316.94,139.13 L317.94,139.82 L318.93,140.51 L319.93,141.20 L320.93,141.89 L321.92,142.59 L322.92,143.30 L323.92,144.00 L324.91,144.71 L325.91,145.42 L326.91,146.14 L327.90,146.86 L328.90,147.58 L329.90,148.31 L330.89,149.04 L331.89,149.77 L332.89,150.51 L333.88,151.25 L334.88,151.99 L335.88,152.74 L336.87,153.49 L337.87,154.25 L338.87,155.01 L339.86,155.77 L340.86,156.53 L341.86,157.30 L342.86,158.07 L343.86,158.85 L344.86,159.63 L345.85,160.41 L346.85,161.20 L347.85,161.99 L348.85,162.79 L349.85,163.59 L350.85,164.39 L351.85,165.20 L352.85,166.02 L353.84,166.83 L354.84,167.65 L355.84,168.48 L356.84,169.31 L357.84,170.15 L358.84,170.99 L359.84,171.83 L360.84,172.68 L361.83,173.53 L362.83,174.39 L363.83,175.25 L364.83,176.12 L365.83,176.99 L366.83,177.87 L367.83,178.75 L368.83,179.64 L369.80,180.54 L370.80,181.49 L371.80,182.44 L372.80,183.39 L373.80,184.36 L374.80,185.32 L375.80,186.30 L376.80,187.28 L377.80,188.26 L378.79,189.25 L379.80,190.24 L380.80,191.24 L381.80,192.24 L382.80,193.24 L383.81,194.26 L384.81,195.27 L385.81,196.30 L386.81,197.33 L387.81,198.37 L388.81,199.43 L389.82,200.49 L390.82,201.56 L391.82,202.64 L392.82,203.72 L393.83,204.81 L394.83,205.91 L395.83,207.01 L396.84,208.12 L397.84,209.23 L398.84,210.35 L399.85,211.48 L400.85,212.61 L401.85,213.75 L402.86,214.90" fill="none" stroke="#e41a1c" stroke-width="1.25" stroke-dasharray="3.1 2.70"/>
<path d="M54.50,12.15 L55.50,12.49 L56.50,12.83 L57.50,13.18 L58.50,13.53 L59.50,13.88 L60.50,14.23 L61.51,14.59 L62.51,14.94 L63.51,15.30 L64.51,15.66 L65.51,16.02 L66.51,16.38 L67.51,16.75 L68.51,17.11 L69.51,17.48 L70.51,17.85 L71.52,18.22 L72.52,18.59 L73.52,18.96 L74.52,19.34 L75.52,19.71 L76.52,20.09 L77.52,20.47 L78.52,20.85 L79.52,21.23 L80.52,21.61 L81.52,21.98 L82.53,22.35 L83.53,22.73 L84.53,23.10 L85.53,23.48 L86.53,23.86 L87.53,24.24 L88.53,24.62 L89.53,25.00 L90.53,25.38 L91.53,25.77 L92.54,26.15 L93.54,26.54 L94.54,26.93 L95.54,27.32 L96.54,27.71 L97.54,28.10 L98.54,28.49 L99.54,28.88 L100.54,29.28 L101.55,29.67 L102.55,30.07 L103.55,30.47 L104.55,30.86 L105.55,31.26 L106.55,31.66 L107.55,32.07 L108.55,32.47 L109.55,32.87 L110.56,33.28 L111.56,33.68 L112.56,34.09 L113.56,34.49 L114.56,34.90 L115.56,35.31 L116.56,35.71 L117.56,36.11 L118.56,36.51 L119.56,36.92 L120.57,37.32 L121.57,37.73 L122.57,38.13 L123.57,38.54 L124.57,38.95 L125.57,39.36 L126.57,39.77 L127.57,40.18 L128.57,40.59 L129.58,41.00 L130.58,41.42 L131.58,41.83 L132.58,42.24 L133.58,42.66 L134.58,43.08 L135.58,43.49 L136.58,43.91 L137.58,44.33 L138.59,44.75 L139.59,45.17 L140.59,45.59 L141.59,46.01 L142.59,46.43 L143.59,46.86 L144.59,47.28 L145.59,47.70 L146.59,48.13 L147.60,48.55 L148.60,48.98 L149.60,49.41 L150.60,49.84 L151.60,50.28 L152.61,50.71 L153.61,51.15 L154.61,51.59 L155.61,52.02 L156.61,52.46 L157.62,52.90 L158.62,53.34 L159.62,53.78 L160.62,54.22 L161.63,54.67 L162.63,55.11 L163.63,55.55 L164.63,56.00 L165.63,56.44 L166.64,56.89 L167.64,57.34 L168.64,57.78 L169.64,58.23 L170.65,58.68 L171.65,59.13 L172.65,59.58 L173.65,60.03 L174.65,60.48 L175.66,60.93 L176.66,61.39 L177.66,61.84 L178.66,62.29 L179.67,62.75 L180.67,63.21 L181.67,63.66 L182.67,64.12 L183.68,64.58 L184.68,65.04 L185.68,65.50 L186.68,65.96 L187.68,66.42 L188.69,66.88 L189.69,67.35 L190.69,67.81 L191.69,68.27 L192.70,68.74 L193.70,69.21 L194.70,69.67 L195.70,70.14 L196.71,70.61 L197.71,71.08 L198.71,71.55 L199.71,72.02 L200.72,72.49 L201.72,72.97 L202.72,73.44 L203.72,73.91 L204.73,74.39 L205.73,74.87 L206.73,75.34 L207.73,75.82 L208.74,76.30 L209.74,76.78 L210.74,77.26 L211.74,77.74 L212.75,78.23 L213.75,78.71 L214.75,79.20 L215.75,79.68 L216.76,80.17 L217.76,80.66 L218.76,81.15 L219.77,81.64 L220.77,82.13 L221.77,82.62 L222.77,83.12 L223.78,83.61 L224.78,84.11 L225.78,84.60 L226.78,85.10 L227.79,85.60 L228.79,86.10 L229.79,86.60 L230.80,87.10 L231.80,87.61 L232.80,88.11 L233.80,88.62 L234.81,89.13 L235.81,89.64 L236.81,90.15 L237.82,90.66 L238.82,91.17 L239.82,91.68 L240.82,92.20 L241.83,92.72 L242.83,93.23 L243.83,93.75 L244.84,94.27 L245.84,94.80 L246.84,95.32 L247.85,95.84 L248.85,96.37 L249.85,96.90 L250.85,97.43 L251.86,97.96 L252.86,98.49 L253.86,99.03 L254.87,99.57 L255.87,100.10 L256.87,100.64 L257.87,101.18 L258.88,101.73 L259.88,102.27 L260.88,102.82 L261.88,103.37 L262.89,103.92 L263.89,104.47 L264.89,105.02 L265.90,105.58 L266.90,106.13 L267.90,106.69 L268.90,107.25 L269.91,107.81 L270.91,108.38 L271.91,108.95 L272.92,109.51 L273.92,110.08 L274.92,110.66 L275.93,111.23 L276.93,111.81 L277.93,112.38 L278.94,112.96 L279.94,113.55 L280.94,114.13 L281.95,114.72 L282.95,115.31 L283.95,115.90 L284.96,116.49 L285.96,117.08 L286.96,117.68 L287.97,118.28 L288.97,118.88 L289.97,119.49 L290.98,120.10 L291.98,120.70 L292.98,121.32 L293.99,121.93 L294.99,122.55 L295.99,123.17 L297.00,123.79 L298.00,124.41 L299.00,125.04 L300.01,125.67 L301.01,126.30 L302.01,126.94 L303.02,127.57 L304.02,128.21 L305.02,128.86 L306.02,129.51 L307.03,130.15 L308.03,130.81 L309.03,131.46 L310.04,132.12 L311.04,132.78 L312.04,133.44 L313.05,134.11 L314.05,134.78 L315.05,135.45 L316.05,136.13 L317.06,136.81 L318.06,137.49 L319.06,138.17 L320.07,138.86 L321.07,139.55 L322.07,140.25 L323.08,140.95 L324.08,141.65 L325.08,142.35 L326.09,143.06 L327.09,143.77 L328.09,144.49 L329.10,145.20 L330.10,145.92 L331.10,146.65 L332.11,147.38 L333.11,148.11 L334.11,148.85 L335.12,149.59 L336.12,150.33 L337.12,151.08 L338.13,151.83 L339.13,152.58 L340.13,153.34 L341.14,154.10 L342.14,154.87 L343.14,155.65 L344.14,156.42 L345.14,157.20 L346.14,157.99 L347.15,158.78 L348.15,159.57 L349.15,160.37 L350.15,161.17 L351.15,161.97 L352.15,162.78 L353.15,163.60 L354.15,164.42 L355.16,165.24 L356.16,166.07 L357.16,166.90 L358.16,167.73 L359.16,168.57 L360.16,169.42 L361.16,170.27 L362.16,171.12 L363.17,171.98 L364.17,172.85 L365.17,173.71 L366.17,174.59 L367.17,175.46 L368.17,176.35 L369.17,177.24 L370.17,178.13 L371.20,179.07 L372.20,180.02 L373.20,180.98 L374.20,181.94 L375.20,182.91 L376.20,183.88 L377.20,184.86 L378.20,185.84 L379.20,186.83 L380.21,187.83 L381.20,188.83 L382.20,189.84 L383.20,190.85 L384.20,191.87 L385.19,192.90 L386.19,193.93 L387.19,194.96 L388.19,196.01 L389.19,197.07 L390.19,198.14 L391.18,199.22 L392.18,200.30 L393.18,201.39 L394.18,202.49 L395.17,203.59 L396.17,204.70 L397.17,205.81 L398.16,206.93 L399.16,208.06 L400.16,209.19 L401.15,210.33 L402.15,211.47 L403.15,212.62 L404.14,213.78" fill="none" stroke="#e41a1c" stroke-width="1.25" stroke-dasharray="3.1 2.70"/>
<path d="M53.02,17.97 L54.02,18.35 L54.99,18.72 L55.99,19.11 L56.99,19.51 L57.99,19.90 L58.99,20.29 L59.99,20.69 L60.99,21.09 L61.99,21.49 L62.99,21.89 L63.99,22.29 L64.99,22.69 L65.99,23.09 L66.99,23.49 L67.99,23.90 L68.99,24.30 L69.99,24.71 L70.99,25.12 L71.99,25.53 L72.99,25.93 L73.99,26.34 L74.99,26.75 L75.99,27.17 L76.99,27.58 L77.99,27.99 L78.99,28.41 L80.01,28.82 L81.01,29.22 L82.01,29.63 L83.01,30.03 L84.01,30.43 L85.01,30.84 L86.01,31.24 L87.01,31.65 L88.01,32.06 L89.01,32.47 L90.01,32.88 L91.01,33.29 L92.01,33.70 L93.01,34.11 L94.01,34.52 L95.01,34.93 L96.01,35.35 L97.02,35.76 L98.02,36.17 L99.02,36.59 L100.02,37.01 L101.02,37.42 L102.02,37.83 L103.02,38.25 L104.02,38.67 L105.03,39.08 L106.03,39.50 L107.03,39.92 L108.03,40.34 L109.03,40.76 L110.03,41.18 L111.04,41.60 L112.04,42.02 L113.04,42.44 L114.04,42.87 L115.07,43.29 L116.07,43.69 L117.07,44.09 L118.07,44.49 L119.07,44.89 L120.08,45.29 L121.08,45.69 L122.08,46.09 L123.08,46.49 L124.08,46.90 L125.08,47.30 L126.09,47.71 L127.09,48.11 L128.09,48.52 L129.09,48.92 L130.09,49.33 L131.10,49.74 L132.10,50.15 L133.10,50.56 L134.10,50.97 L135.10,51.38 L136.10,51.79 L137.11,52.20 L138.11,52.61 L139.11,53.02 L140.11,53.43 L141.11,53.85 L142.12,54.26 L143.12,54.68 L144.12,55.09 L145.12,55.51 L146.12,55.92 L147.13,56.34 L148.13,56.76 L149.13,57.18 L150.12,57.60 L151.12,58.04 L152.12,58.48 L153.12,58.92 L154.12,59.36 L155.13,59.81 L156.13,60.25 L157.13,60.69 L158.13,61.14 L159.13,61.59 L160.13,62.04 L161.13,62.49 L162.13,62.94 L163.13,63.39 L164.13,63.84 L165.13,64.30 L166.13,64.75 L167.13,65.21 L168.13,65.66 L169.13,66.12 L170.13,66.57 L171.13,67.03 L172.13,67.49 L173.12,67.94 L174.12,68.40 L175.12,68.86 L176.12,69.32 L177.12,69.78 L178.12,70.24 L179.12,70.71 L180.12,71.17 L181.12,71.63 L182.12,72.10 L183.12,72.56 L184.12,73.03 L185.12,73.49 L186.12,73.96 L187.12,74.43 L188.12,74.89 L189.12,75.36 L190.12,75.83 L191.12,76.30 L192.12,76.77 L193.12,77.24 L194.12,77.71 L195.11,78.19 L196.11,78.66 L197.11,79.14 L198.11,79.61 L199.11,80.09 L200.11,80.56 L201.11,81.04 L202.11,81.52 L203.11,82.00 L204.11,82.48 L205.11,82.96 L206.11,83.44 L207.11,83.92 L208.11,84.40 L209.11,84.89 L210.11,85.37 L211.11,85.86 L212.11,86.34 L213.11,86.83 L214.10,87.32 L215.10,87.81 L216.10,88.30 L217.10,88.79 L218.10,89.28 L219.10,89.77 L220.10,90.27 L221.10,90.76 L222.10,91.25 L223.10,91.75 L224.10,92.25 L225.10,92.75 L226.10,93.24 L227.10,93.74 L228.10,94.25 L229.10,94.75 L230.09,95.25 L231.09,95.76 L232.09,96.26 L233.09,96.77 L234.09,97.27 L235.09,97.78 L236.09,98.29 L237.09,98.80 L238.09,99.31 L239.09,99.83 L240.09,100.34 L241.09,100.86 L242.09,101.37 L243.09,101.89 L244.09,102.41 L245.08,102.93 L246.08,103.45 L247.08,103.97 L248.08,104.49 L249.08,105.02 L250.08,105.54 L251.08,106.07 L252.08,106.60 L253.08,107.13 L254.08,107.66 L255.07,108.20 L256.07,108.73 L257.07,109.27 L258.07,109.81 L259.07,110.34 L260.07,110.88 L261.07,111.43 L262.06,111.97 L263.06,112.51 L264.06,113.06 L265.06,113.61 L266.06,114.15 L267.06,114.71 L268.06,115.26 L269.05,115.81 L270.05,116.36 L271.05,116.92 L272.05,117.48 L273.05,118.04 L274.05,118.60 L275.05,119.16 L276.04,119.73 L277.04,120.29 L278.04,120.86 L279.04,121.43 L280.04,122.00 L281.04,122.57 L282.04,123.15 L283.03,123.73 L284.03,124.30 L285.03,124.88 L286.03,125.47 L287.03,126.05 L288.03,126.63 L289.02,127.22 L290.02,127.81 L291.02,128.40 L292.02,128.99 L293.02,129.59 L294.02,130.19 L295.01,130.79 L296.01,131.39 L297.01,131.99 L298.01,132.59 L299.01,133.20 L300.01,133.81 L301.00,134.42 L302.00,135.03 L303.00,135.65 L304.00,136.26 L305.00,136.88 L306.00,137.50 L307.00,138.13 L308.00,138.75 L308.99,139.38 L309.99,140.01 L310.99,140.64 L311.99,141.28 L312.99,141.91 L313.99,142.55 L314.99,143.19 L315.98,143.84 L316.98,144.48 L317.98,145.13 L318.98,145.78 L319.98,146.44 L320.98,147.09 L321.98,147.75 L322.97,148.41 L323.97,149.08 L324.97,149.74 L325.97,150.41 L326.97,151.09 L327.97,151.76 L328.97,152.44 L329.96,153.12 L330.96,153.80 L331.96,154.49 L332.96,155.17 L333.96,155.86 L334.96,156.56 L335.96,157.26 L336.95,157.95 L337.95,158.66 L338.95,159.36 L339.95,160.07 L340.95,160.78 L341.95,161.49 L342.95,162.21 L343.95,162.93 L344.95,163.65 L345.95,164.37 L346.95,165.10 L347.95,165.83 L348.95,166.57 L349.95,167.31 L350.95,168.05 L351.95,168.79 L352.94,169.54 L353.94,170.29 L354.94,171.04 L355.94,171.80 L356.94,172.56 L357.94,173.33 L358.94,174.09 L359.94,174.86 L360.94,175.64 L361.94,176.42 L362.94,177.20 L363.94,177.98 L364.94,178.77 L365.94,179.57 L366.94,180.36 L367.94,181.16 L368.94,181.97 L369.92,182.78 L370.92,183.64 L371.92,184.50 L372.92,185.36 L373.92,186.23 L374.92,187.10 L375.92,187.97 L376.92,188.85 L377.92,189.73 L378.92,190.62 L379.92,191.51 L380.92,192.41 L381.92,193.31 L382.92,194.21 L383.92,195.12 L384.92,196.03 L385.92,196.95 L386.92,197.87 L387.92,198.79 L388.92,199.72 L389.92,200.65 L390.92,201.59 L391.92,202.53 L392.92,203.47 L393.92,204.42 L394.92,205.38 L395.92,206.34 L396.92,207.30 L397.92,208.27 L398.92,209.24 L399.92,210.22 L400.92,211.20 L401.92,212.19 L402.92,213.18 L404.48,212.41 L403.48,211.41 L402.48,210.42 L401.48,209.43 L400.48,208.44 L399.48,207.46 L398.48,206.49 L397.48,205.52 L396.48,204.55 L395.48,203.59 L394.48,202.63 L393.48,201.68 L392.48,200.73 L391.48,199.78 L390.48,198.85 L389.48,197.91 L388.48,196.98 L387.48,196.05 L386.48,195.13 L385.48,194.21 L384.48,193.29 L383.48,192.38 L382.48,191.48 L381.48,190.58 L380.48,189.68 L379.48,188.78 L378.48,187.89 L377.48,187.01 L376.48,186.12 L375.48,185.25 L374.48,184.37 L373.48,183.50 L372.48,182.64 L371.48,181.77 L370.46,180.90 L369.46,180.09 L368.46,179.29 L367.46,178.48 L366.46,177.68 L365.46,176.89 L364.46,176.09 L363.46,175.31 L362.46,174.52 L361.46,173.74 L360.46,172.96 L359.46,172.19 L358.46,171.41 L357.46,170.65 L356.46,169.88 L355.46,169.12 L354.46,168.36 L353.45,167.61 L352.45,166.86 L351.45,166.11 L350.45,165.37 L349.45,164.63 L348.45,163.89 L347.45,163.15 L346.45,162.42 L345.45,161.69 L344.45,160.97 L343.45,160.24 L342.45,159.53 L341.45,158.81 L340.45,158.10 L339.45,157.39 L338.45,156.68 L337.44,155.98 L336.44,155.28 L335.44,154.58 L334.44,153.89 L333.44,153.20 L332.44,152.51 L331.44,151.82 L330.43,151.14 L329.43,150.46 L328.43,149.78 L327.43,149.11 L326.43,148.43 L325.43,147.76 L324.43,147.10 L323.42,146.43 L322.42,145.77 L321.42,145.11 L320.42,144.46 L319.42,143.80 L318.42,143.15 L317.42,142.50 L316.41,141.85 L315.41,141.21 L314.41,140.57 L313.41,139.93 L312.41,139.29 L311.41,138.66 L310.41,138.02 L309.41,137.39 L308.40,136.77 L307.40,136.14 L306.40,135.52 L305.40,134.89 L304.40,134.28 L303.40,133.66 L302.40,133.04 L301.40,132.43 L300.39,131.82 L299.39,131.21 L298.39,130.61 L297.39,130.00 L296.39,129.40 L295.39,128.80 L294.38,128.21 L293.38,127.61 L292.38,127.02 L291.38,126.43 L290.38,125.84 L289.38,125.25 L288.37,124.66 L287.37,124.08 L286.37,123.50 L285.37,122.92 L284.37,122.34 L283.37,121.76 L282.36,121.19 L281.36,120.61 L280.36,120.04 L279.36,119.47 L278.36,118.91 L277.36,118.34 L276.35,117.78 L275.35,117.21 L274.35,116.65 L273.35,116.09 L272.35,115.53 L271.35,114.98 L270.35,114.42 L269.34,113.87 L268.34,113.32 L267.34,112.77 L266.34,112.22 L265.34,111.67 L264.34,111.13 L263.34,110.58 L262.33,110.04 L261.33,109.50 L260.33,108.96 L259.33,108.42 L258.33,107.88 L257.33,107.35 L256.33,106.81 L255.33,106.28 L254.32,105.75 L253.32,105.22 L252.32,104.69 L251.32,104.16 L250.32,103.64 L249.32,103.11 L248.32,102.58 L247.32,102.06 L246.32,101.54 L245.32,101.02 L244.31,100.50 L243.31,99.98 L242.31,99.46 L241.31,98.95 L240.31,98.43 L239.31,97.92 L238.31,97.40 L237.31,96.89 L236.31,96.38 L235.31,95.87 L234.31,95.36 L233.31,94.86 L232.31,94.35 L231.31,93.85 L230.30,93.34 L229.30,92.84 L228.30,92.34 L227.30,91.84 L226.30,91.33 L225.30,90.84 L224.30,90.34 L223.30,89.84 L222.30,89.34 L221.30,88.85 L220.30,88.35 L219.30,87.86 L218.30,87.37 L217.30,86.88 L216.30,86.39 L215.30,85.90 L214.29,85.41 L213.29,84.92 L212.29,84.43 L211.29,83.95 L210.29,83.46 L209.29,82.98 L208.29,82.49 L207.29,82.01 L206.29,81.53 L205.29,81.05 L204.29,80.57 L203.29,80.09 L202.29,79.61 L201.29,79.13 L200.29,78.65 L199.29,78.18 L198.29,77.70 L197.29,77.22 L196.29,76.75 L195.28,76.28 L194.28,75.80 L193.28,75.33 L192.28,74.86 L191.28,74.39 L190.28,73.92 L189.28,73.45 L188.28,72.98 L187.28,72.51 L186.28,72.05 L185.28,71.58 L184.28,71.11 L183.28,70.65 L182.28,70.18 L181.28,69.72 L180.28,69.26 L179.28,68.80 L178.28,68.33 L177.28,67.87 L176.28,67.41 L175.28,66.95 L174.28,66.49 L173.27,66.03 L172.27,65.58 L171.27,65.12 L170.27,64.66 L169.27,64.21 L168.27,63.75 L167.27,63.29 L166.27,62.84 L165.27,62.39 L164.27,61.93 L163.27,61.48 L162.27,61.03 L161.27,60.58 L160.27,60.13 L159.27,59.68 L158.27,59.22 L157.27,58.77 L156.27,58.32 L155.28,57.86 L154.28,57.41 L153.28,56.96 L152.28,56.51 L151.28,56.06 L150.27,55.60 L149.27,55.17 L148.27,54.74 L147.28,54.32 L146.28,53.89 L145.28,53.46 L144.28,53.03 L143.28,52.61 L142.28,52.18 L141.29,51.75 L140.29,51.33 L139.29,50.91 L138.29,50.48 L137.29,50.06 L136.30,49.64 L135.30,49.21 L134.30,48.79 L133.30,48.37 L132.30,47.95 L131.31,47.53 L130.31,47.11 L129.31,46.69 L128.31,46.28 L127.31,45.86 L126.31,45.44 L125.32,45.03 L124.32,44.61 L123.32,44.20 L122.32,43.78 L121.32,43.37 L120.33,42.96 L119.33,42.54 L118.33,42.13 L117.33,41.72 L116.33,41.31 L115.36,40.91 L114.36,40.47 L113.36,40.04 L112.36,39.60 L111.36,39.17 L110.37,38.74 L109.37,38.31 L108.37,37.88 L107.37,37.44 L106.37,37.02 L105.38,36.59 L104.38,36.16 L103.38,35.73 L102.38,35.30 L101.38,34.88 L100.38,34.45 L99.38,34.03 L98.38,33.61 L97.38,33.19 L96.39,32.77 L95.39,32.35 L94.39,31.93 L93.39,31.51 L92.39,31.09 L91.39,30.68 L90.39,30.26 L89.39,29.85 L88.39,29.43 L87.39,29.02 L86.39,28.61 L85.39,28.20 L84.39,27.79 L83.39,27.38 L82.39,26.97 L81.39,26.56 L80.41,26.16 L79.41,25.73 L78.41,25.31 L77.41,24.90 L76.41,24.48 L75.41,24.06 L74.41,23.64 L73.41,23.23 L72.41,22.81 L71.41,22.40 L70.41,21.99 L69.41,21.57 L68.41,21.16 L67.41,20.75 L66.41,20.34 L65.41,19.93 L64.41,19.53 L63.41,19.12 L62.41,18.72 L61.41,18.31 L60.41,17.91 L59.41,17.51 L58.41,17.11 L57.41,16.70 L56.41,16.31 L55.39,15.90 L54.38,15.53Z" fill="#377eb8" fill-opacity="0.33"/>
<path d="M53.27,17.29 L54.27,17.66 L55.26,18.04 L56.26,18.43 L57.26,18.83 L58.26,19.23 L59.26,19.62 L60.26,20.02 L61.26,20.42 L62.26,20.83 L63.26,21.23 L64.26,21.63 L65.26,22.04 L66.26,22.44 L67.25,22.85 L68.25,23.26 L69.25,23.66 L70.25,24.07 L71.25,24.48 L72.25,24.89 L73.25,25.31 L74.25,25.72 L75.25,26.13 L76.25,26.55 L77.25,26.96 L78.25,27.38 L79.25,27.80 L80.26,28.21 L81.26,28.62 L82.26,29.02 L83.25,29.43 L84.25,29.83 L85.25,30.24 L86.25,30.65 L87.25,31.06 L88.25,31.47 L89.25,31.88 L90.25,32.29 L91.25,32.71 L92.25,33.12 L93.25,33.53 L94.25,33.95 L95.25,34.37 L96.25,34.78 L97.25,35.20 L98.25,35.62 L99.25,36.04 L100.25,36.46 L101.25,36.88 L102.25,37.30 L103.25,37.72 L104.25,38.14 L105.24,38.57 L106.24,38.99 L107.24,39.42 L108.24,39.84 L109.24,40.27 L110.24,40.70 L111.24,41.12 L112.24,41.55 L113.24,41.98 L114.24,42.41 L115.25,42.83 L116.25,43.24 L117.25,43.64 L118.25,44.05 L119.25,44.46 L120.25,44.87 L121.25,45.27 L122.25,45.68 L123.24,46.09 L124.24,46.50 L125.24,46.91 L126.24,47.33 L127.24,47.74 L128.24,48.15 L129.24,48.56 L130.24,48.98 L131.24,49.39 L132.24,49.81 L133.24,50.22 L134.24,50.64 L135.24,51.05 L136.24,51.47 L137.24,51.89 L138.23,52.31 L139.23,52.73 L140.23,53.15 L141.23,53.57 L142.23,53.99 L143.23,54.41 L144.23,54.83 L145.23,55.25 L146.23,55.68 L147.23,56.10 L148.23,56.52 L149.23,56.95 L150.22,57.38 L151.22,57.82 L152.21,58.27 L153.21,58.72 L154.21,59.16 L155.21,59.61 L156.21,60.06 L157.21,60.51 L158.21,60.96 L159.21,61.41 L160.21,61.86 L161.21,62.31 L162.21,62.76 L163.21,63.21 L164.21,63.66 L165.21,64.12 L166.21,64.57 L167.21,65.02 L168.21,65.48 L169.21,65.93 L170.21,66.39 L171.21,66.85 L172.21,67.31 L173.21,67.76 L174.21,68.22 L175.21,68.68 L176.21,69.14 L177.21,69.60 L178.21,70.06 L179.21,70.53 L180.21,70.99 L181.21,71.45 L182.21,71.91 L183.20,72.38 L184.20,72.84 L185.20,73.31 L186.20,73.78 L187.20,74.24 L188.20,74.71 L189.20,75.18 L190.20,75.65 L191.20,76.12 L192.20,76.59 L193.20,77.06 L194.20,77.53 L195.20,78.01 L196.20,78.48 L197.20,78.96 L198.20,79.43 L199.20,79.91 L200.20,80.38 L201.20,80.86 L202.20,81.34 L203.20,81.82 L204.20,82.30 L205.20,82.78 L206.20,83.26 L207.20,83.74 L208.20,84.22 L209.19,84.71 L210.19,85.19 L211.19,85.68 L212.19,86.16 L213.19,86.65 L214.19,87.14 L215.19,87.63 L216.19,88.12 L217.19,88.61 L218.19,89.10 L219.19,89.59 L220.19,90.09 L221.19,90.58 L222.19,91.08 L223.19,91.57 L224.19,92.07 L225.19,92.57 L226.19,93.07 L227.19,93.57 L228.19,94.07 L229.19,94.57 L230.18,95.07 L231.18,95.58 L232.18,96.08 L233.18,96.59 L234.18,97.10 L235.18,97.60 L236.18,98.11 L237.18,98.62 L238.18,99.14 L239.18,99.65 L240.18,100.16 L241.18,100.68 L242.18,101.19 L243.18,101.71 L244.18,102.23 L245.18,102.75 L246.18,103.27 L247.18,103.79 L248.17,104.32 L249.17,104.84 L250.17,105.37 L251.17,105.90 L252.17,106.43 L253.17,106.96 L254.17,107.49 L255.17,108.02 L256.17,108.56 L257.17,109.09 L258.16,109.63 L259.16,110.17 L260.16,110.71 L261.16,111.25 L262.16,111.79 L263.16,112.34 L264.16,112.88 L265.16,113.43 L266.16,113.98 L267.15,114.53 L268.15,115.08 L269.15,115.64 L270.15,116.19 L271.15,116.75 L272.15,117.30 L273.15,117.86 L274.15,118.43 L275.14,118.99 L276.14,119.55 L277.14,120.12 L278.14,120.69 L279.14,121.26 L280.14,121.83 L281.14,122.40 L282.13,122.98 L283.13,123.55 L284.13,124.13 L285.13,124.71 L286.13,125.29 L287.13,125.88 L288.13,126.46 L289.13,127.05 L290.12,127.64 L291.12,128.23 L292.12,128.82 L293.12,129.42 L294.12,130.01 L295.12,130.61 L296.12,131.21 L297.11,131.82 L298.11,132.42 L299.11,133.03 L300.11,133.64 L301.11,134.25 L302.11,134.86 L303.11,135.48 L304.11,136.09 L305.10,136.71 L306.10,137.33 L307.10,137.96 L308.10,138.58 L309.10,139.21 L310.10,139.84 L311.10,140.47 L312.10,141.11 L313.10,141.74 L314.10,142.38 L315.09,143.03 L316.09,143.67 L317.09,144.32 L318.09,144.96 L319.09,145.62 L320.09,146.27 L321.09,146.93 L322.09,147.59 L323.09,148.25 L324.08,148.91 L325.08,149.58 L326.08,150.25 L327.08,150.92 L328.08,151.59 L329.08,152.27 L330.08,152.95 L331.08,153.64 L332.07,154.32 L333.07,155.01 L334.07,155.70 L335.07,156.39 L336.07,157.09 L337.07,157.79 L338.07,158.49 L339.07,159.20 L340.07,159.91 L341.07,160.62 L342.07,161.33 L343.07,162.05 L344.07,162.77 L345.07,163.49 L346.07,164.21 L347.07,164.94 L348.07,165.67 L349.07,166.41 L350.07,167.15 L351.07,167.89 L352.07,168.63 L353.07,169.38 L354.07,170.13 L355.07,170.88 L356.06,171.64 L357.06,172.40 L358.06,173.17 L359.06,173.94 L360.06,174.71 L361.06,175.48 L362.06,176.26 L363.06,177.04 L364.06,177.83 L365.06,178.62 L366.06,179.41 L367.06,180.21 L368.06,181.01 L369.06,181.81 L370.05,182.63 L371.05,183.48 L372.05,184.34 L373.05,185.21 L374.05,186.08 L375.05,186.95 L376.05,187.82 L377.05,188.70 L378.05,189.59 L379.05,190.47 L380.05,191.36 L381.05,192.26 L382.05,193.16 L383.05,194.06 L384.05,194.97 L385.05,195.88 L386.05,196.80 L387.05,197.72 L388.05,198.64 L389.05,199.57 L390.05,200.50 L391.05,201.44 L392.06,202.38 L393.06,203.33 L394.06,204.28 L395.06,205.23 L396.06,206.19 L397.06,207.16 L398.06,208.13 L399.06,209.10 L400.06,210.08 L401.06,211.06 L402.06,212.05 L403.06,213.04 L404.34,212.55 L403.34,211.55 L402.34,210.56 L401.34,209.57 L400.34,208.59 L399.34,207.61 L398.34,206.63 L397.34,205.66 L396.34,204.69 L395.34,203.73 L394.34,202.78 L393.34,201.82 L392.35,200.87 L391.35,199.93 L390.35,198.99 L389.35,198.06 L388.35,197.13 L387.35,196.20 L386.35,195.28 L385.35,194.36 L384.35,193.44 L383.35,192.53 L382.35,191.63 L381.35,190.72 L380.35,189.83 L379.35,188.93 L378.35,188.04 L377.35,187.16 L376.35,186.27 L375.35,185.40 L374.35,184.52 L373.35,183.65 L372.35,182.79 L371.35,181.92 L370.34,181.06 L369.34,180.25 L368.34,179.44 L367.34,178.64 L366.34,177.84 L365.34,177.04 L364.34,176.25 L363.34,175.46 L362.34,174.68 L361.34,173.90 L360.34,173.12 L359.34,172.34 L358.34,171.57 L357.34,170.81 L356.33,170.04 L355.33,169.28 L354.33,168.52 L353.33,167.77 L352.33,167.02 L351.33,166.27 L350.33,165.53 L349.33,164.79 L348.33,164.05 L347.33,163.31 L346.33,162.58 L345.33,161.85 L344.33,161.13 L343.33,160.41 L342.33,159.69 L341.33,158.97 L340.33,158.26 L339.33,157.55 L338.33,156.84 L337.33,156.14 L336.33,155.44 L335.33,154.75 L334.33,154.05 L333.33,153.36 L332.32,152.67 L331.32,151.99 L330.32,151.30 L329.32,150.62 L328.32,149.95 L327.32,149.27 L326.32,148.60 L325.32,147.93 L324.32,147.26 L323.31,146.60 L322.31,145.94 L321.31,145.28 L320.31,144.62 L319.31,143.97 L318.31,143.32 L317.31,142.67 L316.31,142.02 L315.31,141.38 L314.30,140.74 L313.30,140.10 L312.30,139.46 L311.30,138.82 L310.30,138.19 L309.30,137.56 L308.30,136.93 L307.30,136.31 L306.30,135.69 L305.29,135.06 L304.29,134.45 L303.29,133.83 L302.29,133.21 L301.29,132.60 L300.29,131.99 L299.29,131.38 L298.29,130.78 L297.29,130.18 L296.28,129.57 L295.28,128.98 L294.28,128.38 L293.28,127.78 L292.28,127.19 L291.28,126.60 L290.28,126.01 L289.27,125.42 L288.27,124.84 L287.27,124.25 L286.27,123.67 L285.27,123.09 L284.27,122.51 L283.27,121.94 L282.26,121.36 L281.26,120.79 L280.26,120.22 L279.26,119.65 L278.26,119.08 L277.26,118.51 L276.26,117.95 L275.26,117.39 L274.25,116.83 L273.25,116.27 L272.25,115.71 L271.25,115.15 L270.25,114.60 L269.25,114.04 L268.25,113.49 L267.25,112.94 L266.24,112.39 L265.24,111.85 L264.24,111.30 L263.24,110.76 L262.24,110.22 L261.24,109.67 L260.24,109.13 L259.24,108.60 L258.23,108.06 L257.23,107.52 L256.23,106.99 L255.23,106.46 L254.23,105.93 L253.23,105.40 L252.23,104.87 L251.23,104.34 L250.23,103.81 L249.23,103.29 L248.22,102.76 L247.22,102.24 L246.22,101.72 L245.22,101.20 L244.22,100.68 L243.22,100.16 L242.22,99.64 L241.22,99.12 L240.22,98.61 L239.22,98.10 L238.22,97.58 L237.22,97.07 L236.22,96.56 L235.22,96.05 L234.22,95.54 L233.22,95.04 L232.22,94.53 L231.22,94.02 L230.21,93.52 L229.21,93.02 L228.21,92.51 L227.21,92.01 L226.21,91.51 L225.21,91.01 L224.21,90.52 L223.21,90.02 L222.21,89.52 L221.21,89.03 L220.21,88.53 L219.21,88.04 L218.21,87.55 L217.21,87.06 L216.21,86.57 L215.21,86.08 L214.21,85.59 L213.21,85.10 L212.21,84.61 L211.21,84.13 L210.21,83.64 L209.20,83.16 L208.20,82.67 L207.20,82.19 L206.20,81.71 L205.20,81.23 L204.20,80.75 L203.20,80.27 L202.20,79.79 L201.20,79.31 L200.20,78.83 L199.20,78.36 L198.20,77.88 L197.20,77.41 L196.20,76.93 L195.20,76.46 L194.20,75.98 L193.20,75.51 L192.20,75.04 L191.20,74.57 L190.20,74.10 L189.20,73.63 L188.20,73.16 L187.20,72.70 L186.20,72.23 L185.20,71.76 L184.20,71.30 L183.19,70.83 L182.19,70.37 L181.19,69.90 L180.19,69.44 L179.19,68.98 L178.19,68.52 L177.19,68.05 L176.19,67.59 L175.19,67.13 L174.19,66.67 L173.19,66.22 L172.19,65.76 L171.19,65.30 L170.19,64.84 L169.19,64.39 L168.19,63.93 L167.19,63.48 L166.19,63.02 L165.19,62.57 L164.19,62.12 L163.19,61.66 L162.19,61.21 L161.19,60.76 L160.19,60.31 L159.19,59.86 L158.19,59.41 L157.19,58.96 L156.19,58.51 L155.19,58.06 L154.19,57.62 L153.19,57.17 L152.18,56.72 L151.18,56.28 L150.17,55.83 L149.17,55.41 L148.17,54.98 L147.17,54.56 L146.17,54.14 L145.17,53.72 L144.17,53.30 L143.17,52.88 L142.17,52.46 L141.17,52.04 L140.17,51.62 L139.17,51.20 L138.17,50.79 L137.16,50.37 L136.16,49.95 L135.16,49.54 L134.16,49.12 L133.16,48.71 L132.16,48.30 L131.16,47.88 L130.16,47.47 L129.16,47.06 L128.16,46.65 L127.16,46.24 L126.16,45.83 L125.16,45.42 L124.16,45.01 L123.15,44.60 L122.15,44.19 L121.15,43.79 L120.15,43.38 L119.15,42.97 L118.15,42.57 L117.15,42.17 L116.15,41.76 L115.16,41.36 L114.16,40.93 L113.16,40.50 L112.16,40.08 L111.16,39.65 L110.16,39.23 L109.16,38.80 L108.16,38.38 L107.16,37.95 L106.16,37.53 L105.16,37.11 L104.15,36.68 L103.15,36.26 L102.15,35.84 L101.15,35.42 L100.15,35.00 L99.15,34.59 L98.15,34.17 L97.15,33.75 L96.15,33.33 L95.15,32.92 L94.15,32.50 L93.15,32.09 L92.15,31.67 L91.15,31.26 L90.15,30.85 L89.15,30.43 L88.15,30.02 L87.15,29.61 L86.15,29.20 L85.15,28.79 L84.15,28.39 L83.14,27.98 L82.14,27.57 L81.14,27.17 L80.15,26.76 L79.15,26.35 L78.15,25.93 L77.15,25.51 L76.15,25.10 L75.15,24.68 L74.15,24.27 L73.15,23.86 L72.15,23.44 L71.15,23.03 L70.15,22.62 L69.15,22.21 L68.15,21.81 L67.14,21.40 L66.14,20.99 L65.14,20.59 L64.14,20.18 L63.14,19.78 L62.14,19.38 L61.14,18.98 L60.14,18.58 L59.14,18.18 L58.14,17.78 L57.14,17.38 L56.14,16.99 L55.13,16.59 L54.13,16.22Z" fill="#377eb8"/>
<path d="M54.20,17.85 L55.19,18.22 L56.19,18.61 L57.19,19.01 L58.19,19.40 L59.19,19.80 L60.19,20.19 L61.19,20.59 L62.19,20.99 L63.19,21.39 L64.19,21.79 L65.19,22.19 L66.19,22.59 L67.20,22.99 L68.20,23.40 L69.20,23.80 L70.20,24.21 L71.20,24.62 L72.20,25.03 L73.20,25.43 L74.20,25.84 L75.20,26.25 L76.20,26.67 L77.20,27.08 L78.20,27.49 L79.20,27.91 L80.21,28.32 L81.21,28.72 L82.21,29.12 L83.22,29.52 L84.22,29.93 L85.22,30.33 L86.22,30.74 L87.22,31.15 L88.22,31.55 L89.22,31.96 L90.22,32.37 L91.22,32.78 L92.22,33.19 L93.22,33.60 L94.22,34.01 L95.23,34.43 L96.23,34.84 L97.23,35.25 L98.23,35.67 L99.23,36.08 L100.23,36.50 L101.23,36.91 L102.24,37.32 L103.24,37.74 L104.24,38.15 L105.24,38.57 L106.25,38.98 L107.25,39.40 L108.25,39.82 L109.26,40.24 L110.26,40.66 L111.26,41.07 L112.26,41.49 L113.27,41.92 L114.27,42.34 L115.28,42.75 L116.29,43.15 L117.29,43.55 L118.29,43.94 L119.30,44.34 L120.30,44.74 L121.30,45.14 L122.30,45.54 L123.31,45.94 L124.31,46.35 L125.31,46.75 L126.31,47.15 L127.32,47.55 L128.32,47.96 L129.32,48.36 L130.33,48.77 L131.33,49.18 L132.33,49.58 L133.33,49.99 L134.34,50.40 L135.34,50.81 L136.34,51.21 L137.35,51.62 L138.35,52.03 L139.35,52.45 L140.35,52.86 L141.36,53.27 L142.36,53.68 L143.36,54.09 L144.37,54.51 L145.37,54.92 L146.37,55.34 L147.38,55.75 L148.38,56.17 L149.38,56.58 L150.38,57.01 L151.38,57.45 L152.38,57.89 L153.39,58.33 L154.39,58.77 L155.39,59.21 L156.39,59.66 L157.40,60.10 L158.40,60.54 L159.40,60.99 L160.40,61.43 L161.40,61.88 L162.41,62.32 L163.41,62.77 L164.41,63.22 L165.41,63.67 L166.42,64.11 L167.42,64.56 L168.42,65.01 L169.42,65.46 L170.43,65.91 L171.43,66.37 L172.43,66.82 L173.43,67.27 L174.44,67.72 L175.44,68.18 L176.44,68.63 L177.44,69.09 L178.45,69.54 L179.45,70.00 L180.45,70.46 L181.45,70.92 L182.46,71.37 L183.46,71.83 L184.46,72.29 L185.46,72.75 L186.47,73.22 L187.47,73.68 L188.47,74.14 L189.47,74.60 L190.48,75.07 L191.48,75.53 L192.48,76.00 L193.48,76.46 L194.49,76.93 L195.49,77.40 L196.49,77.87 L197.49,78.34 L198.50,78.81 L199.50,79.28 L200.50,79.75 L201.50,80.23 L202.50,80.71 L203.50,81.19 L204.50,81.67 L205.50,82.15 L206.50,82.63 L207.50,83.11 L208.50,83.59 L209.50,84.08 L210.50,84.56 L211.50,85.05 L212.50,85.53 L213.50,86.02 L214.50,86.51 L215.50,87.00 L216.50,87.49 L217.50,87.98 L218.50,88.47 L219.50,88.96 L220.50,89.46 L221.50,89.95 L222.50,90.45 L223.50,90.94 L224.50,91.44 L225.50,91.94 L226.50,92.44 L227.50,92.94 L228.50,93.44 L229.50,93.94 L230.50,94.45 L231.50,94.95 L232.50,95.46 L233.50,95.96 L234.50,96.47 L235.50,96.98 L236.50,97.49 L237.50,98.00 L238.50,98.51 L239.50,99.03 L240.50,99.54 L241.50,100.06 L242.50,100.57 L243.50,101.09 L244.50,101.61 L245.50,102.13 L246.50,102.65 L247.50,103.17 L248.50,103.70 L249.50,104.22 L250.50,104.75 L251.50,105.28 L252.50,105.80 L253.50,106.33 L254.50,106.87 L255.50,107.40 L256.50,107.93 L257.50,108.47 L258.50,109.01 L259.50,109.54 L260.50,110.08 L261.50,110.62 L262.50,111.17 L263.50,111.71 L264.50,112.26 L265.50,112.80 L266.50,113.35 L267.50,113.90 L268.50,114.45 L269.50,115.01 L270.50,115.56 L271.50,116.12 L272.50,116.67 L273.50,117.23 L274.50,117.79 L275.50,118.36 L276.50,118.92 L277.50,119.49 L278.50,120.05 L279.50,120.62 L280.50,121.19 L281.50,121.77 L282.50,122.34 L283.50,122.92 L284.50,123.49 L285.50,124.07 L286.50,124.66 L287.50,125.24 L288.50,125.82 L289.50,126.41 L290.50,127.00 L291.50,127.59 L292.50,128.18 L293.50,128.78 L294.50,129.38 L295.50,129.97 L296.50,130.57 L297.50,131.18 L298.50,131.78 L299.50,132.39 L300.50,133.00 L301.50,133.61 L302.50,134.23 L303.50,134.84 L304.49,135.46 L305.49,136.09 L306.49,136.71 L307.49,137.34 L308.49,137.96 L309.49,138.60 L310.49,139.23 L311.48,139.86 L312.48,140.50 L313.48,141.14 L314.48,141.78 L315.48,142.43 L316.48,143.07 L317.48,143.72 L318.47,144.38 L319.47,145.03 L320.47,145.69 L321.47,146.35 L322.47,147.01 L323.47,147.67 L324.47,148.34 L325.46,149.01 L326.46,149.68 L327.46,150.36 L328.46,151.03 L329.46,151.71 L330.46,152.40 L331.46,153.08 L332.45,153.77 L333.45,154.46 L334.45,155.16 L335.45,155.85 L336.45,156.55 L337.45,157.25 L338.44,157.96 L339.44,158.67 L340.44,159.38 L341.44,160.09 L342.44,160.81 L343.44,161.53 L344.44,162.25 L345.44,162.97 L346.44,163.70 L347.44,164.43 L348.44,165.17 L349.44,165.91 L350.44,166.65 L351.43,167.39 L352.43,168.14 L353.43,168.89 L354.43,169.64 L355.43,170.40 L356.43,171.16 L357.43,171.92 L358.43,172.69 L359.43,173.46 L360.43,174.24 L361.43,175.02 L362.43,175.80 L363.43,176.58 L364.43,177.37 L365.43,178.16 L366.42,178.96 L367.42,179.76 L368.42,180.56 L369.42,181.37 L370.42,182.20 L371.42,183.06 L372.42,183.92 L373.42,184.79 L374.42,185.66 L375.42,186.53 L376.42,187.41 L377.41,188.29 L378.41,189.18 L379.41,190.07 L380.41,190.96 L381.41,191.86 L382.41,192.76 L383.41,193.67 L384.41,194.58 L385.41,195.49 L386.41,196.41 L387.41,197.34 L388.41,198.26 L389.41,199.20 L390.40,200.13 L391.40,201.07 L392.40,202.02 L393.40,202.96 L394.40,203.92 L395.40,204.88 L396.40,205.84 L397.40,206.80 L398.40,207.78 L399.40,208.75 L400.40,209.73 L401.40,210.72 L402.40,211.71 L403.39,212.70" fill="none" stroke="#377eb8" stroke-width="0.9" stroke-dasharray="3.1 2.70"/>
<path d="M54.80,16.25 L55.81,16.64 L56.81,17.04 L57.81,17.44 L58.81,17.84 L59.81,18.25 L60.81,18.65 L61.81,19.05 L62.81,19.46 L63.81,19.86 L64.81,20.27 L65.81,20.68 L66.81,21.09 L67.80,21.50 L68.80,21.91 L69.80,22.32 L70.80,22.73 L71.80,23.15 L72.80,23.56 L73.80,23.98 L74.80,24.39 L75.80,24.81 L76.80,25.23 L77.80,25.65 L78.80,26.07 L79.80,26.49 L80.79,26.90 L81.79,27.31 L82.79,27.72 L83.78,28.13 L84.78,28.54 L85.78,28.95 L86.78,29.36 L87.78,29.77 L88.78,30.19 L89.78,30.60 L90.78,31.02 L91.78,31.43 L92.78,31.85 L93.78,32.27 L94.78,32.69 L95.77,33.11 L96.77,33.53 L97.77,33.95 L98.77,34.37 L99.77,34.79 L100.77,35.21 L101.77,35.64 L102.76,36.07 L103.76,36.50 L104.76,36.93 L105.76,37.36 L106.75,37.79 L107.75,38.22 L108.75,38.66 L109.74,39.09 L110.74,39.52 L111.74,39.96 L112.74,40.39 L113.73,40.83 L114.73,41.26 L115.72,41.68 L116.71,42.09 L117.71,42.51 L118.71,42.92 L119.70,43.33 L120.70,43.75 L121.70,44.16 L122.70,44.58 L123.69,45.00 L124.69,45.41 L125.69,45.83 L126.69,46.25 L127.68,46.67 L128.68,47.09 L129.68,47.51 L130.67,47.93 L131.67,48.35 L132.67,48.77 L133.67,49.19 L134.66,49.61 L135.66,50.04 L136.66,50.46 L137.65,50.89 L138.65,51.31 L139.65,51.74 L140.65,52.16 L141.64,52.59 L142.64,53.02 L143.64,53.45 L144.63,53.87 L145.63,54.30 L146.63,54.73 L147.62,55.16 L148.62,55.59 L149.62,56.03 L150.62,56.47 L151.62,56.92 L152.62,57.37 L153.61,57.82 L154.61,58.27 L155.61,58.73 L156.61,59.18 L157.60,59.64 L158.60,60.09 L159.60,60.55 L160.60,61.00 L161.60,61.46 L162.59,61.91 L163.59,62.37 L164.59,62.83 L165.59,63.29 L166.58,63.75 L167.58,64.21 L168.58,64.67 L169.58,65.13 L170.57,65.59 L171.57,66.06 L172.57,66.52 L173.57,66.98 L174.56,67.45 L175.56,67.91 L176.56,68.38 L177.56,68.84 L178.55,69.31 L179.55,69.78 L180.55,70.25 L181.55,70.72 L182.54,71.18 L183.54,71.65 L184.54,72.13 L185.54,72.60 L186.53,73.07 L187.53,73.54 L188.53,74.02 L189.53,74.49 L190.52,74.96 L191.52,75.44 L192.52,75.92 L193.52,76.39 L194.51,76.87 L195.51,77.35 L196.51,77.83 L197.51,78.31 L198.50,78.79 L199.50,79.27 L200.50,79.75 L201.50,80.23 L202.50,80.71 L203.50,81.19 L204.50,81.67 L205.50,82.15 L206.50,82.63 L207.50,83.11 L208.50,83.59 L209.50,84.08 L210.50,84.56 L211.50,85.05 L212.50,85.53 L213.50,86.02 L214.50,86.51 L215.50,87.00 L216.50,87.49 L217.50,87.98 L218.50,88.47 L219.50,88.96 L220.50,89.46 L221.50,89.95 L222.50,90.45 L223.50,90.94 L224.50,91.44 L225.50,91.94 L226.50,92.44 L227.50,92.94 L228.50,93.44 L229.50,93.94 L230.50,94.45 L231.50,94.95 L232.50,95.46 L233.50,95.96 L234.50,96.47 L235.50,96.98 L236.50,97.49 L237.50,98.00 L238.50,98.51 L239.50,99.03 L240.50,99.54 L241.50,100.06 L242.50,100.57 L243.50,101.09 L244.50,101.61 L245.50,102.13 L246.50,102.65 L247.50,103.17 L248.50,103.70 L249.50,104.22 L250.50,104.75 L251.50,105.28 L252.50,105.80 L253.50,106.33 L254.50,106.87 L255.50,107.40 L256.50,107.93 L257.50,108.47 L258.50,109.01 L259.50,109.54 L260.50,110.08 L261.50,110.62 L262.50,111.17 L263.50,111.71 L264.50,112.26 L265.50,112.80 L266.50,113.35 L267.50,113.90 L268.50,114.45 L269.50,115.01 L270.50,115.56 L271.50,116.12 L272.50,116.67 L273.50,117.23 L274.50,117.79 L275.50,118.36 L276.50,118.92 L277.50,119.49 L278.50,120.05 L279.50,120.62 L280.50,121.19 L281.50,121.77 L282.50,122.34 L283.50,122.92 L284.50,123.49 L285.50,124.07 L286.50,124.66 L287.50,125.24 L288.50,125.82 L289.50,126.41 L290.50,127.00 L291.50,127.59 L292.50,128.18 L293.50,128.78 L294.50,129.38 L295.50,129.97 L296.50,130.57 L297.50,131.18 L298.50,131.78 L299.50,132.39 L300.50,133.00 L301.50,133.61 L302.50,134.22 L303.50,134.83 L304.51,135.45 L305.51,136.06 L306.51,136.68 L307.51,137.30 L308.51,137.93 L309.51,138.55 L310.51,139.18 L311.52,139.81 L312.52,140.45 L313.52,141.08 L314.52,141.72 L315.52,142.36 L316.52,143.00 L317.52,143.65 L318.53,144.30 L319.53,144.95 L320.53,145.60 L321.53,146.26 L322.53,146.91 L323.53,147.57 L324.53,148.24 L325.54,148.90 L326.54,149.57 L327.54,150.24 L328.54,150.91 L329.54,151.59 L330.54,152.27 L331.54,152.95 L332.55,153.64 L333.55,154.32 L334.55,155.01 L335.55,155.71 L336.55,156.40 L337.55,157.10 L338.56,157.80 L339.56,158.51 L340.56,159.21 L341.56,159.93 L342.56,160.64 L343.56,161.36 L344.56,162.08 L345.56,162.80 L346.56,163.53 L347.56,164.26 L348.56,165.00 L349.56,165.73 L350.56,166.47 L351.57,167.22 L352.57,167.96 L353.57,168.71 L354.57,169.46 L355.57,170.22 L356.57,170.98 L357.57,171.74 L358.57,172.51 L359.57,173.28 L360.57,174.05 L361.57,174.83 L362.57,175.61 L363.57,176.40 L364.57,177.18 L365.57,177.97 L366.58,178.77 L367.58,179.57 L368.58,180.37 L369.58,181.18 L370.58,182.01 L371.58,182.87 L372.58,183.73 L373.58,184.60 L374.58,185.47 L375.58,186.34 L376.58,187.22 L377.59,188.10 L378.59,188.98 L379.59,189.87 L380.59,190.77 L381.59,191.66 L382.59,192.57 L383.59,193.47 L384.59,194.38 L385.59,195.29 L386.59,196.21 L387.59,197.14 L388.59,198.06 L389.59,198.99 L390.60,199.93 L391.60,200.87 L392.60,201.81 L393.60,202.76 L394.60,203.71 L395.60,204.67 L396.60,205.63 L397.60,206.60 L398.60,207.57 L399.60,208.54 L400.60,209.52 L401.60,210.51 L402.60,211.50 L403.61,212.49" fill="none" stroke="#377eb8" stroke-width="0.9" stroke-dasharray="3.1 2.70"/>
<path d="M52.64,38.91 L53.64,39.28 L54.62,39.65 L55.62,40.03 L56.62,40.41 L57.63,40.79 L58.63,41.17 L59.63,41.55 L60.63,41.93 L61.64,42.31 L62.64,42.69 L63.64,43.07 L64.64,43.45 L65.65,43.83 L66.65,44.21 L67.65,44.59 L68.65,44.97 L69.66,45.35 L70.66,45.73 L71.66,46.11 L72.66,46.49 L73.67,46.87 L74.67,47.25 L75.67,47.63 L76.67,48.01 L77.68,48.40 L78.68,48.78 L79.68,49.16 L80.68,49.54 L81.69,49.92 L82.69,50.30 L83.69,50.68 L84.69,51.06 L85.70,51.44 L86.70,51.82 L87.70,52.20 L88.70,52.59 L89.71,52.97 L90.71,53.35 L91.71,53.73 L92.71,54.11 L93.72,54.50 L94.72,54.88 L95.72,55.26 L96.72,55.64 L97.72,56.03 L98.73,56.41 L99.73,56.79 L100.73,57.18 L101.73,57.56 L102.74,57.94 L103.74,58.33 L104.74,58.71 L105.74,59.10 L106.75,59.48 L107.75,59.87 L108.75,60.25 L109.75,60.64 L110.75,61.02 L111.76,61.41 L112.76,61.79 L113.76,62.18 L114.82,62.57 L115.82,62.93 L116.82,63.28 L117.82,63.64 L118.82,63.99 L119.83,64.35 L120.83,64.71 L121.83,65.07 L122.83,65.42 L123.83,65.78 L124.84,66.14 L125.84,66.50 L126.84,66.86 L127.84,67.22 L128.84,67.58 L129.85,67.94 L130.85,68.30 L131.85,68.66 L132.85,69.02 L133.85,69.38 L134.86,69.74 L135.86,70.11 L136.86,70.47 L137.86,70.83 L138.86,71.20 L139.86,71.56 L140.87,71.92 L141.87,72.29 L142.87,72.66 L143.87,73.02 L144.87,73.39 L145.88,73.75 L146.88,74.12 L147.88,74.49 L148.88,74.86 L149.85,75.23 L150.85,75.62 L151.85,76.02 L152.85,76.42 L153.85,76.81 L154.85,77.21 L155.85,77.61 L156.85,78.00 L157.85,78.40 L158.85,78.80 L159.85,79.20 L160.85,79.60 L161.85,80.00 L162.85,80.40 L163.85,80.81 L164.85,81.21 L165.85,81.61 L166.85,82.02 L167.85,82.42 L168.85,82.83 L169.85,83.23 L170.85,83.64 L171.85,84.04 L172.85,84.45 L173.85,84.86 L174.85,85.27 L175.85,85.68 L176.85,86.09 L177.85,86.50 L178.85,86.91 L179.85,87.33 L180.85,87.74 L181.85,88.15 L182.85,88.57 L183.85,88.99 L184.85,89.40 L185.85,89.82 L186.85,90.24 L187.85,90.66 L188.85,91.08 L189.85,91.50 L190.85,91.92 L191.85,92.34 L192.85,92.76 L193.85,93.19 L194.85,93.61 L195.84,94.04 L196.84,94.47 L197.84,94.89 L198.84,95.32 L199.84,95.75 L200.84,96.18 L201.84,96.61 L202.84,97.05 L203.84,97.48 L204.84,97.92 L205.84,98.35 L206.84,98.79 L207.84,99.23 L208.84,99.66 L209.83,100.10 L210.83,100.54 L211.83,100.99 L212.83,101.43 L213.83,101.87 L214.83,102.32 L215.83,102.76 L216.83,103.21 L217.83,103.66 L218.83,104.11 L219.82,104.56 L220.82,105.01 L221.82,105.46 L222.82,105.91 L223.82,106.37 L224.82,106.82 L225.82,107.28 L226.82,107.74 L227.82,108.20 L228.82,108.66 L229.81,109.12 L230.81,109.58 L231.81,110.04 L232.81,110.51 L233.81,110.98 L234.81,111.44 L235.81,111.91 L236.81,112.38 L237.81,112.85 L238.80,113.33 L239.80,113.80 L240.80,114.27 L241.80,114.75 L242.80,115.23 L243.80,115.71 L244.80,116.19 L245.80,116.67 L246.80,117.15 L247.79,117.64 L248.79,118.12 L249.79,118.61 L250.79,119.10 L251.79,119.59 L252.79,120.08 L253.79,120.57 L254.79,121.06 L255.78,121.56 L256.78,122.06 L257.78,122.56 L258.78,123.05 L259.78,123.56 L260.78,124.06 L261.78,124.56 L262.77,125.07 L263.77,125.58 L264.77,126.09 L265.77,126.60 L266.77,127.11 L267.77,127.62 L268.77,128.14 L269.77,128.65 L270.76,129.17 L271.76,129.69 L272.76,130.21 L273.76,130.74 L274.76,131.26 L275.76,131.79 L276.76,132.32 L277.75,132.85 L278.75,133.38 L279.75,133.91 L280.75,134.45 L281.75,134.98 L282.75,135.52 L283.75,136.06 L284.74,136.61 L285.74,137.15 L286.74,137.69 L287.74,138.24 L288.74,138.79 L289.74,139.34 L290.73,139.90 L291.73,140.45 L292.73,141.01 L293.73,141.57 L294.73,142.13 L295.73,142.69 L296.73,143.25 L297.72,143.82 L298.72,144.39 L299.72,144.96 L300.72,145.53 L301.72,146.10 L302.72,146.67 L303.72,147.25 L304.72,147.83 L305.72,148.41 L306.71,148.99 L307.71,149.58 L308.71,150.16 L309.71,150.75 L310.71,151.34 L311.71,151.94 L312.71,152.53 L313.71,153.13 L314.71,153.73 L315.71,154.33 L316.71,154.93 L317.70,155.54 L318.70,156.15 L319.70,156.76 L320.70,157.37 L321.70,157.99 L322.70,158.60 L323.70,159.22 L324.70,159.84 L325.70,160.47 L326.70,161.09 L327.70,161.72 L328.69,162.35 L329.69,162.98 L330.69,163.62 L331.69,164.26 L332.69,164.90 L333.69,165.54 L334.69,166.18 L335.69,166.83 L336.69,167.48 L337.69,168.13 L338.69,168.79 L339.69,169.44 L340.69,170.10 L341.69,170.76 L342.69,171.42 L343.69,172.08 L344.69,172.75 L345.69,173.42 L346.70,174.09 L347.70,174.76 L348.70,175.44 L349.70,176.11 L350.70,176.80 L351.70,177.48 L352.71,178.17 L353.71,178.86 L354.71,179.55 L355.71,180.24 L356.71,180.94 L357.71,181.64 L358.72,182.34 L359.72,183.05 L360.72,183.76 L361.72,184.47 L362.72,185.18 L363.72,185.90 L364.73,186.62 L365.73,187.34 L366.73,188.06 L367.73,188.79 L368.73,189.52 L369.72,190.26 L370.72,191.02 L371.72,191.79 L372.72,192.56 L373.73,193.33 L374.73,194.11 L375.73,194.89 L376.73,195.67 L377.73,196.45 L378.74,197.24 L379.74,198.03 L380.74,198.83 L381.74,199.63 L382.74,200.43 L383.75,201.23 L384.75,202.04 L385.75,202.85 L386.75,203.66 L387.75,204.48 L388.76,205.30 L389.76,206.13 L390.76,206.95 L391.76,207.79 L392.76,208.62 L393.77,209.46 L394.77,210.30 L395.77,211.15 L396.77,212.00 L397.78,212.85 L398.78,213.71 L399.78,214.56 L400.78,215.43 L401.79,216.29 L402.79,217.16 L404.61,215.89 L403.61,215.01 L402.61,214.13 L401.62,213.26 L400.62,212.38 L399.62,211.51 L398.62,210.65 L397.63,209.79 L396.63,208.93 L395.63,208.07 L394.63,207.22 L393.64,206.37 L392.64,205.52 L391.64,204.68 L390.64,203.84 L389.65,203.01 L388.65,202.17 L387.65,201.34 L386.65,200.52 L385.65,199.70 L384.65,198.88 L383.66,198.07 L382.66,197.26 L381.66,196.45 L380.66,195.64 L379.67,194.84 L378.67,194.04 L377.67,193.25 L376.67,192.45 L375.67,191.66 L374.68,190.88 L373.68,190.09 L372.68,189.31 L371.68,188.53 L370.67,187.75 L369.67,187.00 L368.67,186.26 L367.67,185.52 L366.67,184.78 L365.68,184.05 L364.68,183.32 L363.68,182.59 L362.68,181.86 L361.68,181.14 L360.68,180.42 L359.69,179.70 L358.69,178.99 L357.69,178.28 L356.69,177.57 L355.69,176.86 L354.69,176.16 L353.70,175.46 L352.70,174.76 L351.70,174.06 L350.70,173.37 L349.70,172.68 L348.70,171.99 L347.71,171.31 L346.71,170.62 L345.71,169.94 L344.71,169.26 L343.71,168.59 L342.71,167.92 L341.71,167.25 L340.72,166.58 L339.71,165.92 L338.71,165.26 L337.71,164.60 L336.71,163.95 L335.71,163.29 L334.71,162.64 L333.71,162.00 L332.71,161.35 L331.71,160.71 L330.71,160.07 L329.71,159.43 L328.70,158.80 L327.70,158.16 L326.70,157.53 L325.70,156.90 L324.70,156.28 L323.70,155.65 L322.70,155.03 L321.70,154.41 L320.70,153.79 L319.70,153.18 L318.69,152.57 L317.69,151.95 L316.69,151.35 L315.69,150.74 L314.69,150.14 L313.69,149.53 L312.69,148.93 L311.69,148.33 L310.69,147.74 L309.69,147.14 L308.69,146.55 L307.68,145.96 L306.68,145.38 L305.68,144.79 L304.68,144.21 L303.68,143.62 L302.68,143.05 L301.68,142.47 L300.68,141.89 L299.68,141.32 L298.67,140.75 L297.67,140.18 L296.67,139.61 L295.67,139.05 L294.67,138.49 L293.67,137.92 L292.67,137.36 L291.66,136.81 L290.66,136.25 L289.66,135.70 L288.66,135.15 L287.66,134.60 L286.66,134.05 L285.66,133.50 L284.65,132.96 L283.65,132.41 L282.65,131.87 L281.65,131.33 L280.65,130.80 L279.65,130.26 L278.65,129.73 L277.64,129.19 L276.64,128.66 L275.64,128.13 L274.64,127.61 L273.64,127.08 L272.64,126.56 L271.64,126.03 L270.63,125.51 L269.63,124.99 L268.63,124.48 L267.63,123.96 L266.63,123.44 L265.63,122.93 L264.63,122.42 L263.62,121.91 L262.62,121.40 L261.62,120.90 L260.62,120.39 L259.62,119.89 L258.62,119.38 L257.62,118.88 L256.62,118.38 L255.61,117.89 L254.61,117.39 L253.61,116.89 L252.61,116.40 L251.61,115.91 L250.61,115.42 L249.61,114.93 L248.61,114.44 L247.60,113.95 L246.60,113.47 L245.60,112.98 L244.60,112.50 L243.60,112.02 L242.60,111.54 L241.60,111.06 L240.60,110.59 L239.59,110.11 L238.59,109.63 L237.59,109.16 L236.59,108.69 L235.59,108.22 L234.59,107.75 L233.59,107.28 L232.59,106.81 L231.59,106.35 L230.58,105.88 L229.58,105.42 L228.58,104.96 L227.58,104.49 L226.58,104.03 L225.58,103.58 L224.58,103.12 L223.58,102.66 L222.58,102.21 L221.58,101.75 L220.57,101.30 L219.57,100.85 L218.57,100.39 L217.57,99.94 L216.57,99.49 L215.57,99.05 L214.57,98.60 L213.57,98.15 L212.57,97.71 L211.57,97.27 L210.57,96.82 L209.56,96.38 L208.56,95.94 L207.56,95.50 L206.56,95.06 L205.56,94.62 L204.56,94.19 L203.56,93.75 L202.56,93.32 L201.56,92.88 L200.56,92.45 L199.56,92.02 L198.56,91.58 L197.56,91.15 L196.56,90.72 L195.55,90.29 L194.55,89.86 L193.55,89.43 L192.55,89.01 L191.55,88.58 L190.55,88.16 L189.55,87.73 L188.55,87.31 L187.55,86.89 L186.55,86.46 L185.55,86.04 L184.55,85.62 L183.55,85.20 L182.55,84.78 L181.55,84.36 L180.55,83.95 L179.55,83.53 L178.55,83.11 L177.55,82.70 L176.55,82.28 L175.55,81.87 L174.55,81.46 L173.55,81.05 L172.55,80.63 L171.55,80.22 L170.55,79.81 L169.55,79.40 L168.55,78.99 L167.55,78.58 L166.55,78.18 L165.55,77.77 L164.55,77.36 L163.55,76.96 L162.55,76.55 L161.55,76.15 L160.55,75.74 L159.55,75.34 L158.55,74.94 L157.55,74.53 L156.55,74.13 L155.55,73.73 L154.55,73.33 L153.55,72.93 L152.55,72.53 L151.55,72.13 L150.52,71.72 L149.52,71.34 L148.52,70.96 L147.52,70.58 L146.52,70.19 L145.53,69.81 L144.53,69.43 L143.53,69.05 L142.53,68.67 L141.53,68.29 L140.54,67.91 L139.54,67.54 L138.54,67.16 L137.54,66.78 L136.54,66.40 L135.55,66.03 L134.55,65.65 L133.55,65.27 L132.55,64.90 L131.55,64.52 L130.56,64.15 L129.56,63.77 L128.56,63.40 L127.56,63.03 L126.56,62.65 L125.57,62.28 L124.57,61.91 L123.57,61.54 L122.57,61.16 L121.57,60.79 L120.58,60.42 L119.58,60.05 L118.58,59.68 L117.58,59.31 L116.58,58.94 L115.64,58.59 L114.64,58.19 L113.64,57.79 L112.64,57.39 L111.65,56.99 L110.65,56.59 L109.65,56.19 L108.65,55.79 L107.66,55.39 L106.66,54.99 L105.66,54.59 L104.66,54.19 L103.67,53.80 L102.67,53.40 L101.67,53.00 L100.67,52.60 L99.67,52.21 L98.68,51.81 L97.68,51.41 L96.68,51.02 L95.68,50.62 L94.69,50.22 L93.69,49.83 L92.69,49.43 L91.69,49.04 L90.70,48.64 L89.70,48.25 L88.70,47.85 L87.70,47.46 L86.70,47.06 L85.71,46.67 L84.71,46.27 L83.71,45.88 L82.71,45.49 L81.72,45.09 L80.72,44.70 L79.72,44.30 L78.73,43.91 L77.73,43.51 L76.73,43.12 L75.73,42.73 L74.73,42.33 L73.74,41.94 L72.74,41.54 L71.74,41.15 L70.74,40.76 L69.75,40.36 L68.75,39.97 L67.75,39.58 L66.75,39.18 L65.76,38.79 L64.76,38.40 L63.76,38.00 L62.76,37.61 L61.77,37.22 L60.77,36.82 L59.77,36.43 L58.78,36.03 L57.78,35.64 L56.78,35.25 L55.76,34.85 L54.76,34.47Z" fill="#ff7f00" fill-opacity="0.33"/>
<path d="M53.28,37.20 L54.28,37.58 L55.27,37.95 L56.27,38.34 L57.27,38.73 L58.27,39.12 L59.27,39.50 L60.27,39.89 L61.27,40.28 L62.27,40.66 L63.27,41.05 L64.27,41.44 L65.27,41.83 L66.27,42.21 L67.27,42.60 L68.27,42.99 L69.27,43.38 L70.27,43.76 L71.27,44.15 L72.27,44.54 L73.27,44.93 L74.27,45.31 L75.27,45.70 L76.27,46.09 L77.27,46.48 L78.27,46.87 L79.27,47.25 L80.27,47.64 L81.27,48.03 L82.27,48.42 L83.27,48.81 L84.27,49.19 L85.27,49.58 L86.27,49.97 L87.27,50.36 L88.27,50.75 L89.27,51.14 L90.27,51.52 L91.27,51.91 L92.27,52.30 L93.27,52.69 L94.27,53.08 L95.27,53.47 L96.26,53.86 L97.26,54.25 L98.26,54.64 L99.26,55.03 L100.26,55.42 L101.26,55.81 L102.26,56.20 L103.26,56.60 L104.26,56.99 L105.26,57.38 L106.26,57.77 L107.26,58.16 L108.26,58.56 L109.26,58.95 L110.26,59.34 L111.26,59.73 L112.26,60.13 L113.26,60.52 L114.26,60.91 L115.28,61.30 L116.28,61.66 L117.28,62.03 L118.27,62.39 L119.27,62.75 L120.27,63.12 L121.27,63.48 L122.27,63.85 L123.27,64.21 L124.27,64.58 L125.27,64.94 L126.27,65.31 L127.27,65.68 L128.27,66.04 L129.27,66.41 L130.27,66.78 L131.27,67.15 L132.27,67.52 L133.27,67.89 L134.27,68.25 L135.27,68.62 L136.27,68.99 L137.27,69.36 L138.27,69.74 L139.27,70.11 L140.27,70.48 L141.27,70.85 L142.27,71.22 L143.27,71.60 L144.26,71.97 L145.26,72.35 L146.26,72.72 L147.26,73.09 L148.26,73.47 L149.26,73.85 L150.25,74.23 L151.25,74.63 L152.25,75.02 L153.25,75.42 L154.25,75.82 L155.25,76.22 L156.25,76.62 L157.25,77.02 L158.25,77.42 L159.25,77.82 L160.25,78.22 L161.25,78.62 L162.25,79.02 L163.25,79.43 L164.25,79.83 L165.25,80.24 L166.25,80.64 L167.25,81.05 L168.25,81.45 L169.25,81.86 L170.24,82.27 L171.24,82.68 L172.24,83.09 L173.24,83.50 L174.24,83.91 L175.24,84.32 L176.24,84.73 L177.24,85.14 L178.24,85.56 L179.24,85.97 L180.24,86.39 L181.24,86.80 L182.24,87.22 L183.24,87.63 L184.24,88.05 L185.24,88.47 L186.24,88.89 L187.24,89.31 L188.24,89.73 L189.24,90.15 L190.24,90.58 L191.24,91.00 L192.24,91.42 L193.24,91.85 L194.24,92.27 L195.23,92.70 L196.23,93.13 L197.23,93.56 L198.23,93.99 L199.23,94.42 L200.23,94.85 L201.23,95.28 L202.23,95.71 L203.23,96.15 L204.23,96.58 L205.23,97.02 L206.23,97.46 L207.23,97.89 L208.23,98.33 L209.23,98.77 L210.23,99.21 L211.23,99.66 L212.23,100.10 L213.23,100.54 L214.23,100.99 L215.22,101.43 L216.22,101.88 L217.22,102.33 L218.22,102.78 L219.22,103.23 L220.22,103.68 L221.22,104.13 L222.22,104.58 L223.22,105.04 L224.22,105.49 L225.22,105.95 L226.22,106.41 L227.22,106.87 L228.22,107.33 L229.22,107.79 L230.22,108.25 L231.22,108.72 L232.21,109.18 L233.21,109.65 L234.21,110.11 L235.21,110.58 L236.21,111.05 L237.21,111.52 L238.21,112.00 L239.21,112.47 L240.21,112.94 L241.21,113.42 L242.21,113.90 L243.21,114.38 L244.21,114.86 L245.21,115.34 L246.21,115.82 L247.21,116.31 L248.20,116.79 L249.20,117.28 L250.20,117.77 L251.20,118.26 L252.20,118.75 L253.20,119.24 L254.20,119.73 L255.20,120.23 L256.20,120.73 L257.20,121.22 L258.20,121.72 L259.20,122.22 L260.20,122.73 L261.20,123.23 L262.19,123.74 L263.19,124.24 L264.19,124.75 L265.19,125.26 L266.19,125.78 L267.19,126.29 L268.19,126.80 L269.19,127.32 L270.19,127.84 L271.19,128.36 L272.19,128.88 L273.19,129.40 L274.19,129.93 L275.19,130.45 L276.18,130.98 L277.18,131.51 L278.18,132.04 L279.18,132.58 L280.18,133.11 L281.18,133.65 L282.18,134.18 L283.18,134.72 L284.18,135.27 L285.18,135.81 L286.18,136.36 L287.18,136.90 L288.17,137.45 L289.17,138.00 L290.17,138.55 L291.17,139.11 L292.17,139.66 L293.17,140.22 L294.17,140.78 L295.17,141.34 L296.17,141.91 L297.17,142.47 L298.17,143.04 L299.17,143.61 L300.16,144.18 L301.16,144.76 L302.16,145.33 L303.16,145.91 L304.16,146.49 L305.16,147.07 L306.16,147.66 L307.16,148.24 L308.15,148.83 L309.15,149.42 L310.15,150.01 L311.15,150.60 L312.15,151.20 L313.15,151.80 L314.15,152.40 L315.15,153.00 L316.14,153.61 L317.14,154.21 L318.14,154.82 L319.14,155.43 L320.14,156.05 L321.14,156.66 L322.14,157.28 L323.14,157.90 L324.13,158.52 L325.13,159.15 L326.13,159.77 L327.13,160.40 L328.13,161.03 L329.13,161.67 L330.13,162.30 L331.13,162.94 L332.12,163.58 L333.12,164.23 L334.12,164.87 L335.12,165.52 L336.12,166.17 L337.12,166.82 L338.12,167.48 L339.12,168.14 L340.11,168.79 L341.11,169.46 L342.11,170.12 L343.11,170.79 L344.11,171.46 L345.11,172.13 L346.11,172.80 L347.11,173.48 L348.11,174.16 L349.10,174.84 L350.10,175.53 L351.10,176.21 L352.10,176.90 L353.10,177.60 L354.10,178.29 L355.10,178.99 L356.10,179.69 L357.10,180.39 L358.10,181.10 L359.09,181.81 L360.09,182.52 L361.09,183.23 L362.09,183.95 L363.09,184.67 L364.09,185.39 L365.09,186.12 L366.09,186.85 L367.09,187.58 L368.09,188.31 L369.08,189.05 L370.07,189.79 L371.07,190.56 L372.07,191.34 L373.07,192.11 L374.07,192.89 L375.07,193.67 L376.07,194.46 L377.07,195.25 L378.07,196.04 L379.06,196.83 L380.06,197.63 L381.06,198.43 L382.06,199.23 L383.06,200.04 L384.06,200.85 L385.06,201.66 L386.06,202.47 L387.06,203.29 L388.05,204.11 L389.05,204.94 L390.05,205.77 L391.05,206.61 L392.05,207.45 L393.05,208.29 L394.05,209.13 L395.05,209.98 L396.05,210.83 L397.04,211.68 L398.04,212.54 L399.04,213.40 L400.04,214.26 L401.04,215.13 L402.04,216.00 L403.04,216.88 L404.36,216.17 L403.36,215.30 L402.36,214.42 L401.36,213.55 L400.36,212.69 L399.36,211.82 L398.36,210.96 L397.35,210.11 L396.35,209.25 L395.35,208.40 L394.35,207.55 L393.35,206.71 L392.35,205.87 L391.35,205.03 L390.35,204.20 L389.35,203.37 L388.34,202.54 L387.34,201.72 L386.34,200.90 L385.34,200.08 L384.34,199.27 L383.34,198.46 L382.34,197.66 L381.34,196.85 L380.34,196.05 L379.34,195.26 L378.33,194.46 L377.33,193.67 L376.33,192.89 L375.33,192.10 L374.33,191.32 L373.33,190.54 L372.33,189.77 L371.33,188.99 L370.32,188.22 L369.32,187.48 L368.31,186.74 L367.31,186.01 L366.31,185.28 L365.31,184.55 L364.31,183.82 L363.31,183.10 L362.31,182.38 L361.31,181.67 L360.31,180.95 L359.30,180.24 L358.30,179.53 L357.30,178.83 L356.30,178.12 L355.30,177.42 L354.30,176.73 L353.30,176.03 L352.30,175.34 L351.30,174.65 L350.30,173.96 L349.29,173.28 L348.29,172.59 L347.29,171.92 L346.29,171.24 L345.29,170.56 L344.29,169.89 L343.29,169.22 L342.29,168.56 L341.29,167.89 L340.29,167.23 L339.28,166.57 L338.28,165.92 L337.28,165.26 L336.28,164.61 L335.28,163.96 L334.28,163.31 L333.28,162.67 L332.27,162.03 L331.27,161.39 L330.27,160.75 L329.27,160.12 L328.27,159.48 L327.27,158.85 L326.27,158.23 L325.27,157.60 L324.26,156.98 L323.26,156.36 L322.26,155.74 L321.26,155.12 L320.26,154.51 L319.26,153.89 L318.26,153.28 L317.26,152.68 L316.25,152.07 L315.25,151.47 L314.25,150.87 L313.25,150.27 L312.25,149.67 L311.25,149.08 L310.25,148.48 L309.25,147.89 L308.24,147.30 L307.24,146.72 L306.24,146.13 L305.24,145.55 L304.24,144.97 L303.24,144.39 L302.24,143.81 L301.24,143.24 L300.23,142.67 L299.23,142.10 L298.23,141.53 L297.23,140.96 L296.23,140.39 L295.23,139.83 L294.23,139.27 L293.23,138.71 L292.23,138.15 L291.23,137.60 L290.23,137.04 L289.23,136.49 L288.22,135.94 L287.22,135.39 L286.22,134.84 L285.22,134.30 L284.22,133.75 L283.22,133.21 L282.22,132.67 L281.22,132.14 L280.22,131.60 L279.22,131.06 L278.22,130.53 L277.22,130.00 L276.22,129.47 L275.21,128.94 L274.21,128.42 L273.21,127.89 L272.21,127.37 L271.21,126.85 L270.21,126.33 L269.21,125.81 L268.21,125.29 L267.21,124.78 L266.21,124.27 L265.21,123.75 L264.21,123.24 L263.21,122.74 L262.20,122.23 L261.20,121.72 L260.20,121.22 L259.20,120.72 L258.20,120.22 L257.20,119.72 L256.20,119.22 L255.20,118.72 L254.20,118.23 L253.20,117.73 L252.20,117.24 L251.20,116.75 L250.20,116.26 L249.20,115.77 L248.19,115.29 L247.19,114.80 L246.19,114.32 L245.19,113.83 L244.19,113.35 L243.19,112.87 L242.19,112.39 L241.19,111.92 L240.19,111.44 L239.19,110.97 L238.19,110.49 L237.19,110.02 L236.19,109.55 L235.19,109.08 L234.19,108.61 L233.19,108.14 L232.18,107.68 L231.18,107.21 L230.18,106.75 L229.18,106.29 L228.18,105.83 L227.18,105.37 L226.18,104.91 L225.18,104.45 L224.18,103.99 L223.18,103.54 L222.18,103.08 L221.18,102.63 L220.18,102.18 L219.18,101.73 L218.18,101.28 L217.18,100.83 L216.18,100.38 L215.17,99.93 L214.17,99.49 L213.17,99.04 L212.17,98.60 L211.17,98.16 L210.17,97.71 L209.17,97.27 L208.17,96.83 L207.17,96.39 L206.17,95.96 L205.17,95.52 L204.17,95.08 L203.17,94.65 L202.17,94.22 L201.17,93.78 L200.17,93.35 L199.17,92.92 L198.17,92.49 L197.17,92.06 L196.17,91.63 L195.17,91.20 L194.16,90.78 L193.16,90.35 L192.16,89.93 L191.16,89.50 L190.16,89.08 L189.16,88.66 L188.16,88.23 L187.16,87.81 L186.16,87.39 L185.16,86.97 L184.16,86.56 L183.16,86.14 L182.16,85.72 L181.16,85.31 L180.16,84.89 L179.16,84.47 L178.16,84.06 L177.16,83.65 L176.16,83.24 L175.16,82.82 L174.16,82.41 L173.16,82.00 L172.16,81.59 L171.16,81.18 L170.15,80.77 L169.15,80.37 L168.15,79.96 L167.15,79.55 L166.15,79.15 L165.15,78.74 L164.15,78.34 L163.15,77.93 L162.15,77.53 L161.15,77.13 L160.15,76.73 L159.15,76.32 L158.15,75.92 L157.15,75.52 L156.15,75.12 L155.15,74.72 L154.15,74.33 L153.15,73.93 L152.15,73.53 L151.15,73.13 L150.14,72.73 L149.14,72.36 L148.14,71.98 L147.14,71.61 L146.14,71.23 L145.14,70.86 L144.13,70.49 L143.13,70.12 L142.13,69.74 L141.13,69.37 L140.13,69.00 L139.13,68.63 L138.13,68.26 L137.13,67.89 L136.13,67.52 L135.13,67.15 L134.13,66.78 L133.13,66.41 L132.13,66.05 L131.13,65.68 L130.13,65.31 L129.13,64.94 L128.13,64.58 L127.13,64.21 L126.13,63.85 L125.13,63.48 L124.13,63.12 L123.13,62.75 L122.13,62.39 L121.13,62.02 L120.13,61.66 L119.13,61.30 L118.12,60.93 L117.12,60.57 L116.12,60.21 L115.14,59.85 L114.14,59.46 L113.14,59.06 L112.14,58.67 L111.14,58.28 L110.14,57.89 L109.14,57.49 L108.14,57.10 L107.14,56.71 L106.14,56.32 L105.14,55.93 L104.14,55.54 L103.14,55.15 L102.14,54.76 L101.14,54.37 L100.14,53.98 L99.14,53.59 L98.14,53.20 L97.14,52.81 L96.14,52.42 L95.13,52.03 L94.13,51.64 L93.13,51.25 L92.13,50.87 L91.13,50.48 L90.13,50.09 L89.13,49.70 L88.13,49.31 L87.13,48.93 L86.13,48.54 L85.13,48.15 L84.13,47.76 L83.13,47.38 L82.13,46.99 L81.13,46.60 L80.13,46.22 L79.13,45.83 L78.13,45.44 L77.13,45.06 L76.13,44.67 L75.13,44.28 L74.13,43.90 L73.13,43.51 L72.13,43.12 L71.13,42.74 L70.13,42.35 L69.13,41.96 L68.13,41.58 L67.13,41.19 L66.13,40.80 L65.13,40.42 L64.13,40.03 L63.13,39.64 L62.13,39.26 L61.13,38.87 L60.13,38.49 L59.13,38.10 L58.13,37.71 L57.13,37.33 L56.13,36.94 L55.12,36.55 L54.12,36.18Z" fill="#ff7f00"/>
<path d="M53.97,38.39 L54.96,38.77 L55.96,39.15 L56.96,39.53 L57.97,39.91 L58.97,40.29 L59.97,40.67 L60.97,41.06 L61.97,41.44 L62.98,41.82 L63.98,42.20 L64.98,42.58 L65.98,42.96 L66.98,43.35 L67.99,43.73 L68.99,44.11 L69.99,44.49 L70.99,44.87 L71.99,45.25 L73.00,45.64 L74.00,46.02 L75.00,46.40 L76.00,46.78 L77.00,47.16 L78.01,47.55 L79.01,47.93 L80.01,48.31 L81.01,48.69 L82.01,49.08 L83.02,49.46 L84.02,49.84 L85.02,50.22 L86.02,50.61 L87.02,50.99 L88.02,51.37 L89.03,51.75 L90.03,52.14 L91.03,52.52 L92.03,52.90 L93.03,53.29 L94.04,53.67 L95.04,54.06 L96.04,54.44 L97.04,54.82 L98.04,55.21 L99.04,55.59 L100.05,55.98 L101.05,56.36 L102.05,56.75 L103.05,57.14 L104.05,57.52 L105.05,57.91 L106.06,58.30 L107.06,58.68 L108.06,59.07 L109.06,59.46 L110.06,59.85 L111.06,60.23 L112.07,60.62 L113.07,61.01 L114.07,61.40 L115.10,61.78 L116.10,62.14 L117.10,62.50 L118.10,62.86 L119.11,63.22 L120.11,63.58 L121.11,63.94 L122.11,64.30 L123.11,64.66 L124.11,65.02 L125.11,65.38 L126.12,65.74 L127.12,66.10 L128.12,66.46 L129.12,66.82 L130.12,67.19 L131.12,67.55 L132.12,67.91 L133.13,68.28 L134.13,68.64 L135.13,69.00 L136.13,69.37 L137.13,69.73 L138.13,70.10 L139.13,70.47 L140.14,70.83 L141.14,71.20 L142.14,71.57 L143.14,71.94 L144.14,72.30 L145.14,72.67 L146.14,73.04 L147.14,73.41 L148.15,73.78 L149.15,74.15 L150.13,74.53 L151.13,74.93 L152.13,75.32 L153.13,75.72 L154.13,76.12 L155.13,76.51 L156.13,76.91 L157.13,77.31 L158.13,77.71 L159.13,78.11 L160.13,78.51 L161.13,78.91 L162.13,79.31 L163.13,79.72 L164.13,80.12 L165.13,80.52 L166.13,80.93 L167.13,81.33 L168.13,81.74 L169.13,82.14 L170.13,82.55 L171.13,82.96 L172.13,83.37 L173.13,83.78 L174.13,84.19 L175.13,84.60 L176.13,85.01 L177.13,85.42 L178.13,85.83 L179.13,86.24 L180.13,86.66 L181.13,87.07 L182.13,87.49 L183.13,87.90 L184.13,88.32 L185.13,88.74 L186.13,89.16 L187.13,89.58 L188.13,90.00 L189.13,90.42 L190.13,90.84 L191.13,91.26 L192.13,91.68 L193.13,92.11 L194.13,92.53 L195.12,92.96 L196.12,93.39 L197.12,93.81 L198.12,94.24 L199.12,94.67 L200.12,95.10 L201.12,95.53 L202.12,95.96 L203.12,96.40 L204.12,96.83 L205.12,97.27 L206.12,97.70 L207.12,98.14 L208.12,98.58 L209.12,99.02 L210.12,99.46 L211.12,99.90 L212.12,100.34 L213.12,100.78 L214.12,101.22 L215.12,101.67 L216.12,102.12 L217.12,102.56 L218.12,103.01 L219.12,103.46 L220.12,103.91 L221.12,104.36 L222.12,104.81 L223.12,105.27 L224.12,105.72 L225.12,106.18 L226.11,106.63 L227.11,107.09 L228.11,107.55 L229.11,108.01 L230.11,108.47 L231.11,108.94 L232.11,109.40 L233.11,109.87 L234.11,110.33 L235.11,110.80 L236.11,111.27 L237.11,111.74 L238.11,112.21 L239.11,112.68 L240.11,113.16 L241.11,113.63 L242.11,114.11 L243.11,114.59 L244.11,115.06 L245.11,115.55 L246.11,116.03 L247.11,116.51 L248.11,116.99 L249.11,117.48 L250.10,117.97 L251.10,118.46 L252.10,118.95 L253.10,119.44 L254.10,119.93 L255.10,120.43 L256.10,120.92 L257.10,121.42 L258.10,121.92 L259.10,122.42 L260.10,122.92 L261.10,123.42 L262.10,123.93 L263.10,124.43 L264.10,124.94 L265.10,125.45 L266.10,125.96 L267.10,126.47 L268.10,126.99 L269.10,127.50 L270.09,128.02 L271.09,128.54 L272.09,129.06 L273.09,129.58 L274.09,130.10 L275.09,130.63 L276.09,131.16 L277.09,131.69 L278.09,132.22 L279.09,132.75 L280.09,133.28 L281.09,133.82 L282.09,134.35 L283.09,134.89 L284.09,135.43 L285.09,135.98 L286.09,136.52 L287.09,137.07 L288.08,137.61 L289.08,138.16 L290.08,138.72 L291.08,139.27 L292.08,139.82 L293.08,140.38 L294.08,140.94 L295.08,141.50 L296.08,142.06 L297.08,142.63 L298.08,143.19 L299.08,143.76 L300.08,144.33 L301.08,144.90 L302.08,145.48 L303.08,146.05 L304.08,146.63 L305.08,147.21 L306.08,147.79 L307.08,148.37 L308.08,148.96 L309.08,149.54 L310.08,150.13 L311.08,150.72 L312.08,151.32 L313.08,151.91 L314.08,152.51 L315.08,153.11 L316.08,153.71 L317.08,154.32 L318.08,154.92 L319.08,155.53 L320.08,156.14 L321.08,156.75 L322.08,157.37 L323.08,157.99 L324.08,158.61 L325.08,159.23 L326.08,159.85 L327.08,160.48 L328.08,161.11 L329.08,161.74 L330.08,162.37 L331.08,163.01 L332.08,163.65 L333.08,164.29 L334.09,164.93 L335.09,165.57 L336.09,166.22 L337.09,166.87 L338.09,167.52 L339.09,168.18 L340.09,168.83 L341.09,169.49 L342.09,170.15 L343.10,170.81 L344.10,171.47 L345.10,172.14 L346.11,172.81 L347.11,173.48 L348.11,174.15 L349.11,174.83 L350.12,175.51 L351.12,176.19 L352.12,176.87 L353.13,177.56 L354.13,178.25 L355.13,178.94 L356.14,179.64 L357.14,180.33 L358.14,181.03 L359.15,181.74 L360.15,182.44 L361.15,183.15 L362.16,183.86 L363.16,184.58 L364.16,185.29 L365.17,186.01 L366.17,186.73 L367.17,187.46 L368.18,188.19 L369.18,188.92 L370.18,189.66 L371.18,190.43 L372.18,191.19 L373.19,191.96 L374.19,192.74 L375.19,193.51 L376.20,194.29 L377.20,195.08 L378.20,195.86 L379.21,196.65 L380.21,197.44 L381.22,198.24 L382.22,199.03 L383.22,199.84 L384.23,200.64 L385.23,201.45 L386.23,202.26 L387.24,203.07 L388.24,203.89 L389.24,204.71 L390.25,205.54 L391.25,206.37 L392.26,207.20 L393.26,208.04 L394.26,208.87 L395.27,209.72 L396.27,210.56 L397.28,211.41 L398.28,212.26 L399.28,213.12 L400.29,213.98 L401.29,214.84 L402.30,215.71 L403.30,216.58" fill="none" stroke="#ff7f00" stroke-width="1.3" stroke-dasharray="3.1 2.70"/>
<path d="M55.03,35.59 L56.04,35.97 L57.04,36.37 L58.04,36.76 L59.03,37.15 L60.03,37.54 L61.03,37.93 L62.03,38.33 L63.03,38.72 L64.02,39.11 L65.02,39.50 L66.02,39.89 L67.02,40.28 L68.02,40.68 L69.01,41.07 L70.01,41.46 L71.01,41.85 L72.01,42.25 L73.01,42.64 L74.00,43.03 L75.00,43.42 L76.00,43.82 L77.00,44.21 L78.00,44.60 L78.99,44.99 L79.99,45.39 L80.99,45.78 L81.99,46.17 L82.99,46.56 L83.98,46.96 L84.98,47.35 L85.98,47.74 L86.98,48.14 L87.98,48.53 L88.98,48.92 L89.97,49.32 L90.97,49.71 L91.97,50.10 L92.97,50.50 L93.97,50.89 L94.96,51.29 L95.96,51.68 L96.96,52.07 L97.96,52.47 L98.96,52.86 L99.96,53.26 L100.95,53.65 L101.95,54.05 L102.95,54.45 L103.95,54.84 L104.95,55.24 L105.95,55.63 L106.94,56.03 L107.94,56.43 L108.94,56.82 L109.94,57.22 L110.94,57.62 L111.94,58.01 L112.93,58.41 L113.93,58.81 L114.93,59.21 L115.90,59.58 L116.90,59.95 L117.90,60.31 L118.90,60.68 L119.89,61.05 L120.89,61.42 L121.89,61.79 L122.89,62.16 L123.89,62.53 L124.89,62.90 L125.89,63.27 L126.88,63.64 L127.88,64.01 L128.88,64.38 L129.88,64.75 L130.88,65.13 L131.88,65.50 L132.88,65.87 L133.87,66.24 L134.87,66.62 L135.87,66.99 L136.87,67.37 L137.87,67.74 L138.87,68.12 L139.87,68.49 L140.86,68.87 L141.86,69.25 L142.86,69.62 L143.86,70.00 L144.86,70.38 L145.86,70.76 L146.86,71.14 L147.86,71.52 L148.85,71.90 L149.85,72.28 L150.87,72.67 L151.87,73.07 L152.87,73.47 L153.87,73.87 L154.87,74.27 L155.87,74.67 L156.87,75.07 L157.87,75.47 L158.87,75.87 L159.87,76.27 L160.87,76.68 L161.87,77.08 L162.87,77.48 L163.87,77.89 L164.87,78.29 L165.87,78.70 L166.87,79.11 L167.87,79.51 L168.87,79.92 L169.87,80.33 L170.87,80.74 L171.87,81.15 L172.87,81.56 L173.87,81.97 L174.87,82.38 L175.87,82.79 L176.87,83.21 L177.87,83.62 L178.87,84.04 L179.87,84.45 L180.87,84.87 L181.87,85.28 L182.87,85.70 L183.87,86.12 L184.87,86.54 L185.87,86.96 L186.87,87.38 L187.87,87.80 L188.87,88.22 L189.87,88.65 L190.87,89.07 L191.87,89.50 L192.87,89.92 L193.87,90.35 L194.87,90.78 L195.88,91.20 L196.88,91.63 L197.88,92.06 L198.88,92.49 L199.88,92.93 L200.88,93.36 L201.88,93.79 L202.88,94.23 L203.88,94.66 L204.88,95.10 L205.88,95.54 L206.88,95.97 L207.88,96.41 L208.88,96.85 L209.88,97.29 L210.88,97.74 L211.88,98.18 L212.88,98.62 L213.88,99.07 L214.88,99.52 L215.88,99.96 L216.88,100.41 L217.88,100.86 L218.88,101.31 L219.88,101.76 L220.88,102.22 L221.88,102.67 L222.88,103.12 L223.88,103.58 L224.88,104.04 L225.88,104.50 L226.89,104.96 L227.89,105.42 L228.89,105.88 L229.89,106.34 L230.89,106.81 L231.89,107.27 L232.89,107.74 L233.89,108.20 L234.89,108.67 L235.89,109.14 L236.89,109.62 L237.89,110.09 L238.89,110.56 L239.89,111.04 L240.89,111.51 L241.89,111.99 L242.89,112.47 L243.89,112.95 L244.89,113.43 L245.89,113.92 L246.89,114.40 L247.89,114.89 L248.89,115.37 L249.89,115.86 L250.90,116.35 L251.90,116.84 L252.90,117.34 L253.90,117.83 L254.90,118.33 L255.90,118.82 L256.90,119.32 L257.90,119.82 L258.90,120.32 L259.90,120.83 L260.90,121.33 L261.90,121.84 L262.90,122.34 L263.90,122.85 L264.90,123.36 L265.90,123.88 L266.90,124.39 L267.90,124.90 L268.90,125.42 L269.90,125.94 L270.91,126.46 L271.91,126.98 L272.91,127.50 L273.91,128.03 L274.91,128.56 L275.91,129.08 L276.91,129.61 L277.91,130.14 L278.91,130.68 L279.91,131.21 L280.91,131.75 L281.91,132.29 L282.91,132.83 L283.91,133.37 L284.91,133.91 L285.91,134.46 L286.91,135.01 L287.91,135.55 L288.92,136.10 L289.92,136.66 L290.92,137.21 L291.92,137.77 L292.92,138.33 L293.92,138.89 L294.92,139.45 L295.92,140.01 L296.92,140.58 L297.92,141.14 L298.92,141.71 L299.92,142.29 L300.92,142.86 L301.92,143.44 L302.92,144.01 L303.92,144.60 L304.92,145.18 L305.92,145.76 L306.92,146.35 L307.92,146.94 L308.92,147.53 L309.92,148.12 L310.92,148.72 L311.92,149.31 L312.92,149.91 L313.92,150.51 L314.92,151.12 L315.92,151.72 L316.92,152.33 L317.92,152.94 L318.92,153.55 L319.92,154.16 L320.92,154.78 L321.92,155.40 L322.92,156.02 L323.92,156.64 L324.92,157.27 L325.92,157.90 L326.92,158.52 L327.92,159.16 L328.92,159.79 L329.92,160.43 L330.92,161.07 L331.92,161.71 L332.92,162.35 L333.92,163.00 L334.91,163.65 L335.91,164.30 L336.91,164.95 L337.91,165.61 L338.91,166.26 L339.91,166.92 L340.91,167.59 L341.91,168.26 L342.91,168.93 L343.90,169.60 L344.90,170.28 L345.90,170.96 L346.89,171.64 L347.89,172.33 L348.89,173.01 L349.89,173.70 L350.88,174.39 L351.88,175.09 L352.88,175.79 L353.87,176.49 L354.87,177.19 L355.87,177.89 L356.86,178.60 L357.86,179.31 L358.86,180.02 L359.85,180.74 L360.85,181.46 L361.85,182.18 L362.84,182.90 L363.84,183.63 L364.84,184.36 L365.83,185.09 L366.83,185.83 L367.83,186.57 L368.82,187.31 L369.82,188.05 L370.82,188.82 L371.82,189.59 L372.82,190.37 L373.81,191.16 L374.81,191.94 L375.81,192.73 L376.80,193.52 L377.80,194.32 L378.80,195.12 L379.79,195.92 L380.79,196.72 L381.78,197.53 L382.78,198.34 L383.78,199.15 L384.77,199.96 L385.77,200.78 L386.77,201.61 L387.76,202.43 L388.76,203.26 L389.76,204.10 L390.75,204.93 L391.75,205.77 L392.74,206.62 L393.74,207.47 L394.74,208.32 L395.73,209.17 L396.73,210.03 L397.72,210.89 L398.72,211.75 L399.72,212.62 L400.71,213.49 L401.71,214.36 L402.70,215.24 L403.70,216.12" fill="none" stroke="#ff7f00" stroke-width="1.3" stroke-dasharray="3.1 2.70"/>
</g>
<path d="M55.50,219.4v-3.6M55.50,10.6v3.6M102.59,219.4v-2.2M102.59,10.6v2.2M136.00,219.4v-3.6M136.00,10.6v3.6M183.08,219.4v-2.2M183.08,10.6v2.2M216.49,219.4v-2.2M216.49,10.6v2.2M242.41,219.4v-3.6M242.41,10.6v3.6M263.58,219.4v-2.2M263.58,10.6v2.2M281.48,219.4v-2.2M281.48,10.6v2.2M296.99,219.4v-2.2M296.99,10.6v2.2M310.67,219.4v-2.2M310.67,10.6v2.2M322.90,219.4v-3.6M322.90,10.6v3.6M369.99,219.4v-2.2M369.99,10.6v2.2M403.40,219.4v-3.6M403.40,10.6v3.6M55.5,10.60h7.2M403.4,10.60h-7.2M55.5,31.45h3.6M403.4,31.45h-3.6M55.5,26.20h3.6M403.4,26.20h-3.6M55.5,22.47h3.6M403.4,22.47h-3.6M55.5,19.58h3.6M403.4,19.58h-3.6M55.5,17.22h3.6M403.4,17.22h-3.6M55.5,15.22h3.6M403.4,15.22h-3.6M55.5,13.49h3.6M403.4,13.49h-3.6M55.5,11.96h3.6M403.4,11.96h-3.6M55.5,40.43h7.2M403.4,40.43h-7.2M55.5,61.28h3.6M403.4,61.28h-3.6M55.5,56.03h3.6M403.4,56.03h-3.6M55.5,52.30h3.6M403.4,52.30h-3.6M55.5,49.41h3.6M403.4,49.41h-3.6M55.5,47.05h3.6M403.4,47.05h-3.6M55.5,45.05h3.6M403.4,45.05h-3.6M55.5,43.32h3.6M403.4,43.32h-3.6M55.5,41.79h3.6M403.4,41.79h-3.6M55.5,70.26h7.2M403.4,70.26h-7.2M55.5,91.11h3.6M403.4,91.11h-3.6M55.5,85.85h3.6M403.4,85.85h-3.6M55.5,82.13h3.6M403.4,82.13h-3.6M55.5,79.24h3.6M403.4,79.24h-3.6M55.5,76.87h3.6M403.4,76.87h-3.6M55.5,74.88h3.6M403.4,74.88h-3.6M55.5,73.15h3.6M403.4,73.15h-3.6M55.5,71.62h3.6M403.4,71.62h-3.6M55.5,100.09h7.2M403.4,100.09h-7.2M55.5,120.93h3.6M403.4,120.93h-3.6M55.5,115.68h3.6M403.4,115.68h-3.6M55.5,111.96h3.6M403.4,111.96h-3.6M55.5,109.07h3.6M403.4,109.07h-3.6M55.5,106.70h3.6M403.4,106.70h-3.6M55.5,104.71h3.6M403.4,104.71h-3.6M55.5,102.98h3.6M403.4,102.98h-3.6M55.5,101.45h3.6M403.4,101.45h-3.6M55.5,129.91h7.2M403.4,129.91h-7.2M55.5,150.76h3.6M403.4,150.76h-3.6M55.5,145.51h3.6M403.4,145.51h-3.6M55.5,141.78h3.6M403.4,141.78h-3.6M55.5,138.89h3.6M403.4,138.89h-3.6M55.5,136.53h3.6M403.4,136.53h-3.6M55.5,134.53h3.6M403.4,134.53h-3.6M55.5,132.80h3.6M403.4,132.80h-3.6M55.5,131.28h3.6M403.4,131.28h-3.6M55.5,159.74h7.2M403.4,159.74h-7.2M55.5,180.59h3.6M403.4,180.59h-3.6M55.5,175.34h3.6M403.4,175.34h-3.6M55.5,171.61h3.6M403.4,171.61h-3.6M55.5,168.72h3.6M403.4,168.72h-3.6M55.5,166.36h3.6M403.4,166.36h-3.6M55.5,164.36h3.6M403.4,164.36h-3.6M55.5,162.63h3.6M403.4,162.63h-3.6M55.5,161.11h3.6M403.4,161.11h-3.6M55.5,189.57h7.2M403.4,189.57h-7.2M55.5,210.42h3.6M403.4,210.42h-3.6M55.5,205.17h3.6M403.4,205.17h-3.6M55.5,201.44h3.6M403.4,201.44h-3.6M55.5,198.55h3.6M403.4,198.55h-3.6M55.5,196.19h3.6M403.4,196.19h-3.6M55.5,194.19h3.6M403.4,194.19h-3.6M55.5,192.46h3.6M403.4,192.46h-3.6M55.5,190.94h3.6M403.4,190.94h-3.6M55.5,219.40h7.2M403.4,219.40h-7.2" stroke="#000" stroke-width="0.8" fill="none"/>
<rect x="55.5" y="10.6" width="347.9" height="208.8" fill="none" stroke="#000" stroke-width="0.9"/>
<text class="s" x="33.6" y="17.60" font-size="14.4" textLength="14.0" lengthAdjust="spacingAndGlyphs">10</text>
<text class="s" x="48.3" y="12.20" font-size="10" textLength="4.8" lengthAdjust="spacingAndGlyphs">0</text>
<text class="s" x="27.0" y="47.43" font-size="14.4" textLength="14.0" lengthAdjust="spacingAndGlyphs">10</text>
<text class="s" x="42.1" y="42.63" font-size="10" textLength="5.8" lengthAdjust="spacingAndGlyphs">−</text>
<text class="s" x="48.1" y="42.03" font-size="10" textLength="4.7" lengthAdjust="spacingAndGlyphs">1</text>
<text class="s" x="27.0" y="77.26" font-size="14.4" textLength="14.0" lengthAdjust="spacingAndGlyphs">10</text>
<text class="s" x="42.1" y="72.46" font-size="10" textLength="5.8" lengthAdjust="spacingAndGlyphs">−</text>
<text class="s" x="48.1" y="71.86" font-size="10" textLength="4.7" lengthAdjust="spacingAndGlyphs">2</text>
<text class="s" x="27.0" y="107.09" font-size="14.4" textLength="14.0" lengthAdjust="spacingAndGlyphs">10</text>
<text class="s" x="42.1" y="102.29" font-size="10" textLength="5.8" lengthAdjust="spacingAndGlyphs">−</text>
<text class="s" x="48.1" y="101.69" font-size="10" textLength="4.7" lengthAdjust="spacingAndGlyphs">3</text>
<text class="s" x="27.0" y="136.91" font-size="14.4" textLength="14.0" lengthAdjust="spacingAndGlyphs">10</text>
<text class="s" x="42.1" y="132.11" font-size="10" textLength="5.8" lengthAdjust="spacingAndGlyphs">−</text>
<text class="s" x="48.1" y="131.51" font-size="10" textLength="4.7" lengthAdjust="spacingAndGlyphs">4</text>
<text class="s" x="27.0" y="166.74" font-size="14.4" textLength="14.0" lengthAdjust="spacingAndGlyphs">10</text>
<text class="s" x="42.1" y="161.94" font-size="10" textLength="5.8" lengthAdjust="spacingAndGlyphs">−</text>
<text class="s" x="48.1" y="161.34" font-size="10" textLength="4.7" lengthAdjust="spacingAndGlyphs">5</text>
<text class="s" x="27.0" y="196.57" font-size="14.4" textLength="14.0" lengthAdjust="spacingAndGlyphs">10</text>
<text class="s" x="42.1" y="191.77" font-size="10" textLength="5.8" lengthAdjust="spacingAndGlyphs">−</text>
<text class="s" x="48.1" y="191.17" font-size="10" textLength="4.7" lengthAdjust="spacingAndGlyphs">6</text>
<text class="s" x="27.0" y="226.40" font-size="14.4" textLength="14.0" lengthAdjust="spacingAndGlyphs">10</text>
<text class="s" x="42.1" y="221.60" font-size="10" textLength="5.8" lengthAdjust="spacingAndGlyphs">−</text>
<text class="s" x="48.1" y="221.00" font-size="10" textLength="4.7" lengthAdjust="spacingAndGlyphs">7</text>
<text class="s" x="45.9" y="239.70" font-size="14.6" textLength="18.2" lengthAdjust="spacingAndGlyphs">0.1</text>
<text class="s" x="126.4" y="239.70" font-size="14.6" textLength="18.2" lengthAdjust="spacingAndGlyphs">0.2</text>
<text class="s" x="232.81" y="239.70" font-size="14.6" textLength="18.2" lengthAdjust="spacingAndGlyphs">0.5</text>
<text class="s" x="319.1" y="239.70" font-size="14.6" textLength="6.6" lengthAdjust="spacingAndGlyphs">1</text>
<text class="s" x="399.5" y="239.70" font-size="14.6" textLength="6.8" lengthAdjust="spacingAndGlyphs">2</text>
<text x="192.8" y="265.5" font-size="14" font-style="italic" textLength="13.4" lengthAdjust="spacingAndGlyphs">M</text>
<text class="s" x="206" y="267.6" font-size="10" font-style="italic" textLength="7.6" lengthAdjust="spacingAndGlyphs">H</text>
<text class="s" x="213.9" y="264.8" font-size="7" textLength="9.0" lengthAdjust="spacingAndGlyphs">±±</text>
<text x="228.6" y="265.5" font-size="14" textLength="36.8" lengthAdjust="spacingAndGlyphs">[TeV]</text>
<g transform="translate(17.5,164.6) rotate(-90)">
<text x="0" y="0" font-size="14" font-style="italic" textLength="7.8" lengthAdjust="spacingAndGlyphs">σ</text>
<text x="8.8" y="0" font-size="14" textLength="4.6" lengthAdjust="spacingAndGlyphs">(</text>
<text x="14.0" y="0" font-size="14" font-style="italic" textLength="11.8" lengthAdjust="spacingAndGlyphs">H</text>
<text class="s" x="26.6" y="-6.2" font-size="10" textLength="11.0" lengthAdjust="spacingAndGlyphs">++</text>
<text x="39.0" y="0" font-size="14" font-style="italic" textLength="11.8" lengthAdjust="spacingAndGlyphs">H</text>
<text class="s" x="52.2" y="-6.2" font-size="10" textLength="10.2" lengthAdjust="spacingAndGlyphs">−−</text>
<text x="62.6" y="0" font-size="14" textLength="4.6" lengthAdjust="spacingAndGlyphs">)</text>
<text x="74.5" y="0" font-size="14" textLength="24.4" lengthAdjust="spacingAndGlyphs">[pb]</text>
</g>
<path d="M67.7,151.9H81.6" stroke="#e41a1c" stroke-width="1.5" fill="none"/>
<path d="M67.7,168.4H81.6" stroke="#4daf4a" stroke-width="1.5" fill="none"/>
<path d="M67.7,185.0H81.6" stroke="#377eb8" stroke-width="1.5" fill="none"/>
<path d="M67.7,201.7H81.6" stroke="#ff7f00" stroke-width="1.5" fill="none"/>
<text x="82.9" y="157.30" font-size="14" textLength="20.8" lengthAdjust="spacingAndGlyphs">DY</text>
<text x="82.9" y="173.80" font-size="14" textLength="20.8" lengthAdjust="spacingAndGlyphs">DY</text>
<text class="b" x="105.9" y="172.70" font-size="8.6" textLength="8.3" lengthAdjust="spacingAndGlyphs">@</text>
<text x="115.3" y="173.80" font-size="14" textLength="29.4" lengthAdjust="spacingAndGlyphs">NLO</text>
<text x="82.9" y="190.40" font-size="14" textLength="22.8" lengthAdjust="spacingAndGlyphs">SPI</text>
<text x="82.9" y="207.10" font-size="14" textLength="25.8" lengthAdjust="spacingAndGlyphs">DPI</text>
<path d="M120.2,185H134.2" stroke="#e41a1c" stroke-width="1.5" fill="none"/>
<text x="135.6" y="190.40" font-size="14" textLength="61.4" lengthAdjust="spacingAndGlyphs">PDF unc.</text>
<path d="M120.5,201.7H134.2" stroke="#e41a1c" stroke-width="1.5" stroke-dasharray="2.8 2" fill="none"/>
<text x="135.2" y="207.10" font-size="14" textLength="63.8" lengthAdjust="spacingAndGlyphs">Scale unc.</text>
</svg></body></html>
